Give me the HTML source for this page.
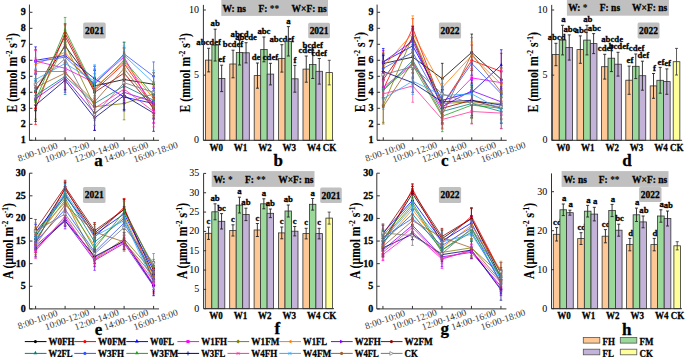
<!DOCTYPE html><html><head><meta charset="utf-8"><style>html,body{margin:0;padding:0;background:#fff;}body{width:685px;height:357px;overflow:hidden;}svg{display:block;}</style></head><body><svg width="685" height="357" viewBox="0 0 685 357" font-family="Liberation Serif, serif">
<style>text[font-weight="bold"]{stroke:#000;stroke-width:0.28px;}</style>
<rect width="685" height="357" fill="#fff"/>
<rect x="83.2" y="22.4" width="22.5" height="16.1" rx="1.5" fill="#c0c0c0"/>
<text x="94.45" y="33.9" font-size="10.3" font-weight="bold" text-anchor="middle" textLength="18.95" lengthAdjust="spacingAndGlyphs">2021</text>
<polyline points="35.6,90.7 65.1,45.9 94.6,85.9 124.1,79.5 153.6,84.3" fill="none" stroke="#000000" stroke-width="0.8"/>
<polyline points="35.6,108.3 65.1,33.1 94.6,90.7 124.1,63.5 153.6,105.1" fill="none" stroke="#ff0000" stroke-width="0.8"/>
<polyline points="35.6,60.3 65.1,55.5 94.6,78.7 124.1,97.1 153.6,103.5" fill="none" stroke="#0000ff" stroke-width="0.8"/>
<polyline points="35.6,61.1 65.1,68.3 94.6,82.7 124.1,57.1 153.6,109.9" fill="none" stroke="#ff00ff" stroke-width="0.8"/>
<polyline points="35.6,101.9 65.1,44.3 94.6,106.7 124.1,103.5 153.6,93.9" fill="none" stroke="#808000" stroke-width="0.8"/>
<polyline points="35.6,64.3 65.1,52.3 94.6,87.5 124.1,61.9 153.6,98.7" fill="none" stroke="#ff8000" stroke-width="0.8"/>
<polyline points="35.6,98.7 65.1,77.9 94.6,113.1 124.1,92.3 153.6,101.9" fill="none" stroke="#8000ff" stroke-width="0.8"/>
<polyline points="35.6,92.3 65.1,36.3 94.6,92.3 124.1,73.1 153.6,108.3" fill="none" stroke="#990000" stroke-width="0.8"/>
<polyline points="35.6,95.5 65.1,76.3 94.6,103.5 124.1,85.9 153.6,100.3" fill="none" stroke="#008080" stroke-width="0.8"/>
<polyline points="35.6,61.9 65.1,57.1 94.6,84.3 124.1,53.9 153.6,76.3" fill="none" stroke="#3355ff" stroke-width="0.8"/>
<polyline points="35.6,100.3 65.1,29.9 94.6,89.1 124.1,60.3 153.6,95.5" fill="none" stroke="#22a022" stroke-width="0.8"/>
<polyline points="35.6,105.1 65.1,80.3 94.6,117.9 124.1,95.5 153.6,113.1" fill="none" stroke="#000080" stroke-width="0.8"/>
<polyline points="35.6,71.5 65.1,71.5 94.6,108.3 124.1,89.1 153.6,111.5" fill="none" stroke="#ff3399" stroke-width="0.8"/>
<polyline points="35.6,79.5 65.1,63.5 94.6,81.1 124.1,55.5 153.6,82.7" fill="none" stroke="#33aaff" stroke-width="0.8"/>
<polyline points="35.6,87.5 65.1,73.1 94.6,101.9 124.1,68.3 153.6,106.7" fill="none" stroke="#a0602d" stroke-width="0.8"/>
<polyline points="35.6,84.3 65.1,58.7 94.6,114.7 124.1,82.7 153.6,92.3" fill="none" stroke="#777777" stroke-width="0.8"/>
<path d="M35.6 81.1V100.3M34.3 81.1H36.9M34.3 100.3H36.9" stroke="#000000" stroke-width="0.7" fill="none"/>
<circle cx="35.6" cy="90.7" r="1.3" fill="#000000"/>
<path d="M65.1 33.42V58.38M63.8 33.42H66.4M63.8 58.38H66.4" stroke="#000000" stroke-width="0.7" fill="none"/>
<circle cx="65.1" cy="45.9" r="1.3" fill="#000000"/>
<path d="M94.6 70.54V101.26M93.3 70.54H95.9M93.3 101.26H95.9" stroke="#000000" stroke-width="0.7" fill="none"/>
<circle cx="94.6" cy="85.9" r="1.3" fill="#000000"/>
<path d="M124.1 61.26V97.74M122.8 61.26H125.4M122.8 97.74H125.4" stroke="#000000" stroke-width="0.7" fill="none"/>
<circle cx="124.1" cy="79.5" r="1.3" fill="#000000"/>
<path d="M153.6 72.78V95.82M152.3 72.78H154.9M152.3 95.82H154.9" stroke="#000000" stroke-width="0.7" fill="none"/>
<circle cx="153.6" cy="84.3" r="1.3" fill="#000000"/>
<path d="M35.6 91.98V124.62M34.3 91.98H36.9M34.3 124.62H36.9" stroke="#ff0000" stroke-width="0.7" fill="none"/>
<circle cx="35.6" cy="108.3" r="1.3" fill="#ff0000"/>
<path d="M65.1 23.5V42.7M63.8 23.5H66.4M63.8 42.7H66.4" stroke="#ff0000" stroke-width="0.7" fill="none"/>
<circle cx="65.1" cy="33.1" r="1.3" fill="#ff0000"/>
<path d="M94.6 78.22V103.18M93.3 78.22H95.9M93.3 103.18H95.9" stroke="#ff0000" stroke-width="0.7" fill="none"/>
<circle cx="94.6" cy="90.7" r="1.3" fill="#ff0000"/>
<path d="M124.1 48.14V78.86M122.8 48.14H125.4M122.8 78.86H125.4" stroke="#ff0000" stroke-width="0.7" fill="none"/>
<circle cx="124.1" cy="63.5" r="1.3" fill="#ff0000"/>
<path d="M153.6 86.86V123.34M152.3 86.86H154.9M152.3 123.34H154.9" stroke="#ff0000" stroke-width="0.7" fill="none"/>
<circle cx="153.6" cy="105.1" r="1.3" fill="#ff0000"/>
<path d="M35.6 46.86V73.74M34.3 46.86H36.9M34.3 73.74H36.9" stroke="#0000ff" stroke-width="0.7" fill="none"/>
<path d="M35.6 58.09L37.16 60.95L34.04 60.95Z" fill="#0000ff"/>
<path d="M65.1 39.18V71.82M63.8 39.18H66.4M63.8 71.82H66.4" stroke="#0000ff" stroke-width="0.7" fill="none"/>
<path d="M65.1 53.29L66.66 56.15L63.54 56.15Z" fill="#0000ff"/>
<path d="M94.6 69.1V88.3M93.3 69.1H95.9M93.3 88.3H95.9" stroke="#0000ff" stroke-width="0.7" fill="none"/>
<path d="M94.6 76.49L96.16 79.35L93.04 79.35Z" fill="#0000ff"/>
<path d="M124.1 84.62V109.58M122.8 84.62H125.4M122.8 109.58H125.4" stroke="#0000ff" stroke-width="0.7" fill="none"/>
<path d="M124.1 94.89L125.66 97.75L122.54 97.75Z" fill="#0000ff"/>
<path d="M153.6 88.14V118.86M152.3 88.14H154.9M152.3 118.86H154.9" stroke="#0000ff" stroke-width="0.7" fill="none"/>
<path d="M153.6 101.29L155.16 104.15L152.04 104.15Z" fill="#0000ff"/>
<path d="M35.6 50.54V71.66M34.3 50.54H36.9M34.3 71.66H36.9" stroke="#ff00ff" stroke-width="0.7" fill="none"/>
<rect x="34.3" y="59.8" width="2.6" height="2.6" fill="#ff00ff"/>
<path d="M65.1 54.86V81.74M63.8 54.86H66.4M63.8 81.74H66.4" stroke="#ff00ff" stroke-width="0.7" fill="none"/>
<rect x="63.8" y="67" width="2.6" height="2.6" fill="#ff00ff"/>
<path d="M94.6 66.38V99.02M93.3 66.38H95.9M93.3 99.02H95.9" stroke="#ff00ff" stroke-width="0.7" fill="none"/>
<rect x="93.3" y="81.4" width="2.6" height="2.6" fill="#ff00ff"/>
<path d="M124.1 47.5V66.7M122.8 47.5H125.4M122.8 66.7H125.4" stroke="#ff00ff" stroke-width="0.7" fill="none"/>
<rect x="122.8" y="55.8" width="2.6" height="2.6" fill="#ff00ff"/>
<path d="M153.6 97.42V122.38M152.3 97.42H154.9M152.3 122.38H154.9" stroke="#ff00ff" stroke-width="0.7" fill="none"/>
<rect x="152.3" y="108.6" width="2.6" height="2.6" fill="#ff00ff"/>
<path d="M35.6 84.62V119.18M34.3 84.62H36.9M34.3 119.18H36.9" stroke="#808000" stroke-width="0.7" fill="none"/>
<path d="M35.6 100.21L37.29 101.9L35.6 103.59L33.91 101.9Z" fill="#808000"/>
<path d="M65.1 33.74V54.86M63.8 33.74H66.4M63.8 54.86H66.4" stroke="#808000" stroke-width="0.7" fill="none"/>
<path d="M65.1 42.61L66.79 44.3L65.1 45.99L63.41 44.3Z" fill="#808000"/>
<path d="M94.6 93.26V120.14M93.3 93.26H95.9M93.3 120.14H95.9" stroke="#808000" stroke-width="0.7" fill="none"/>
<path d="M94.6 105.01L96.29 106.7L94.6 108.39L92.91 106.7Z" fill="#808000"/>
<path d="M124.1 87.18V119.82M122.8 87.18H125.4M122.8 119.82H125.4" stroke="#808000" stroke-width="0.7" fill="none"/>
<path d="M124.1 101.81L125.79 103.5L124.1 105.19L122.41 103.5Z" fill="#808000"/>
<path d="M153.6 84.3V103.5M152.3 84.3H154.9M152.3 103.5H154.9" stroke="#808000" stroke-width="0.7" fill="none"/>
<path d="M153.6 92.21L155.29 93.9L153.6 95.59L151.91 93.9Z" fill="#808000"/>
<path d="M35.6 49.9V78.7M34.3 49.9H36.9M34.3 78.7H36.9" stroke="#ff8000" stroke-width="0.7" fill="none"/>
<path d="M34.04 64.3L36.9 62.74L36.9 65.86Z" fill="#ff8000"/>
<path d="M65.1 35.02V69.58M63.8 35.02H66.4M63.8 69.58H66.4" stroke="#ff8000" stroke-width="0.7" fill="none"/>
<path d="M63.54 52.3L66.4 50.74L66.4 53.86Z" fill="#ff8000"/>
<path d="M94.6 76.94V98.06M93.3 76.94H95.9M93.3 98.06H95.9" stroke="#ff8000" stroke-width="0.7" fill="none"/>
<path d="M93.04 87.5L95.9 85.94L95.9 89.06Z" fill="#ff8000"/>
<path d="M124.1 48.46V75.34M122.8 48.46H125.4M122.8 75.34H125.4" stroke="#ff8000" stroke-width="0.7" fill="none"/>
<path d="M122.54 61.9L125.4 60.34L125.4 63.46Z" fill="#ff8000"/>
<path d="M153.6 82.38V115.02M152.3 82.38H154.9M152.3 115.02H154.9" stroke="#ff8000" stroke-width="0.7" fill="none"/>
<path d="M152.04 98.7L154.9 97.14L154.9 100.26Z" fill="#ff8000"/>
<path d="M35.6 87.18V110.22M34.3 87.18H36.9M34.3 110.22H36.9" stroke="#8000ff" stroke-width="0.7" fill="none"/>
<path d="M37.16 98.7L34.3 97.14L34.3 100.26Z" fill="#8000ff"/>
<path d="M65.1 63.5V92.3M63.8 63.5H66.4M63.8 92.3H66.4" stroke="#8000ff" stroke-width="0.7" fill="none"/>
<path d="M66.66 77.9L63.8 76.34L63.8 79.46Z" fill="#8000ff"/>
<path d="M94.6 95.82V130.38M93.3 95.82H95.9M93.3 130.38H95.9" stroke="#8000ff" stroke-width="0.7" fill="none"/>
<path d="M96.16 113.1L93.3 111.54L93.3 114.66Z" fill="#8000ff"/>
<path d="M124.1 81.74V102.86M122.8 81.74H125.4M122.8 102.86H125.4" stroke="#8000ff" stroke-width="0.7" fill="none"/>
<path d="M125.66 92.3L122.8 90.74L122.8 93.86Z" fill="#8000ff"/>
<path d="M153.6 88.46V115.34M152.3 88.46H154.9M152.3 115.34H154.9" stroke="#8000ff" stroke-width="0.7" fill="none"/>
<path d="M155.16 101.9L152.3 100.34L152.3 103.46Z" fill="#8000ff"/>
<path d="M35.6 74.06V110.54M34.3 74.06H36.9M34.3 110.54H36.9" stroke="#990000" stroke-width="0.7" fill="none"/>
<circle cx="35.6" cy="92.3" r="1.3" fill="#990000"/>
<path d="M65.1 24.78V47.82M63.8 24.78H66.4M63.8 47.82H66.4" stroke="#990000" stroke-width="0.7" fill="none"/>
<circle cx="65.1" cy="36.3" r="1.3" fill="#990000"/>
<path d="M94.6 77.9V106.7M93.3 77.9H95.9M93.3 106.7H95.9" stroke="#990000" stroke-width="0.7" fill="none"/>
<circle cx="94.6" cy="92.3" r="1.3" fill="#990000"/>
<path d="M124.1 55.82V90.38M122.8 55.82H125.4M122.8 90.38H125.4" stroke="#990000" stroke-width="0.7" fill="none"/>
<circle cx="124.1" cy="73.1" r="1.3" fill="#990000"/>
<path d="M153.6 97.74V118.86M152.3 97.74H154.9M152.3 118.86H154.9" stroke="#990000" stroke-width="0.7" fill="none"/>
<circle cx="153.6" cy="108.3" r="1.3" fill="#990000"/>
<path d="M35.6 80.14V110.86M34.3 80.14H36.9M34.3 110.86H36.9" stroke="#008080" stroke-width="0.7" fill="none"/>
<path d="M35.6 93.29L37.16 96.15L34.04 96.15Z" fill="#008080"/>
<path d="M65.1 58.06V94.54M63.8 58.06H66.4M63.8 94.54H66.4" stroke="#008080" stroke-width="0.7" fill="none"/>
<path d="M65.1 74.09L66.66 76.95L63.54 76.95Z" fill="#008080"/>
<path d="M94.6 91.98V115.02M93.3 91.98H95.9M93.3 115.02H95.9" stroke="#008080" stroke-width="0.7" fill="none"/>
<path d="M94.6 101.29L96.16 104.15L93.04 104.15Z" fill="#008080"/>
<path d="M124.1 71.5V100.3M122.8 71.5H125.4M122.8 100.3H125.4" stroke="#008080" stroke-width="0.7" fill="none"/>
<path d="M124.1 83.69L125.66 86.55L122.54 86.55Z" fill="#008080"/>
<path d="M153.6 83.02V117.58M152.3 83.02H154.9M152.3 117.58H154.9" stroke="#008080" stroke-width="0.7" fill="none"/>
<path d="M153.6 98.09L155.16 100.95L152.04 100.95Z" fill="#008080"/>
<path d="M35.6 49.42V74.38M34.3 49.42H36.9M34.3 74.38H36.9" stroke="#3355ff" stroke-width="0.7" fill="none"/>
<circle cx="35.6" cy="61.9" r="1.3" fill="#3355ff"/>
<path d="M65.1 41.74V72.46M63.8 41.74H66.4M63.8 72.46H66.4" stroke="#3355ff" stroke-width="0.7" fill="none"/>
<circle cx="65.1" cy="57.1" r="1.3" fill="#3355ff"/>
<path d="M94.6 66.06V102.54M93.3 66.06H95.9M93.3 102.54H95.9" stroke="#3355ff" stroke-width="0.7" fill="none"/>
<circle cx="94.6" cy="84.3" r="1.3" fill="#3355ff"/>
<path d="M124.1 42.38V65.42M122.8 42.38H125.4M122.8 65.42H125.4" stroke="#3355ff" stroke-width="0.7" fill="none"/>
<circle cx="124.1" cy="53.9" r="1.3" fill="#3355ff"/>
<path d="M153.6 61.9V90.7M152.3 61.9H154.9M152.3 90.7H154.9" stroke="#3355ff" stroke-width="0.7" fill="none"/>
<circle cx="153.6" cy="76.3" r="1.3" fill="#3355ff"/>
<path d="M35.6 90.7V109.9M34.3 90.7H36.9M34.3 109.9H36.9" stroke="#22a022" stroke-width="0.7" fill="none"/>
<path d="M35.6 98.09L37.16 100.95L34.04 100.95Z" fill="#22a022"/>
<path d="M65.1 17.42V42.38M63.8 17.42H66.4M63.8 42.38H66.4" stroke="#22a022" stroke-width="0.7" fill="none"/>
<path d="M65.1 27.69L66.66 30.55L63.54 30.55Z" fill="#22a022"/>
<path d="M94.6 73.74V104.46M93.3 73.74H95.9M93.3 104.46H95.9" stroke="#22a022" stroke-width="0.7" fill="none"/>
<path d="M94.6 86.89L96.16 89.75L93.04 89.75Z" fill="#22a022"/>
<path d="M124.1 42.06V78.54M122.8 42.06H125.4M122.8 78.54H125.4" stroke="#22a022" stroke-width="0.7" fill="none"/>
<path d="M124.1 58.09L125.66 60.95L122.54 60.95Z" fill="#22a022"/>
<path d="M153.6 83.98V107.02M152.3 83.98H154.9M152.3 107.02H154.9" stroke="#22a022" stroke-width="0.7" fill="none"/>
<path d="M153.6 93.29L155.16 96.15L152.04 96.15Z" fill="#22a022"/>
<path d="M35.6 88.78V121.42M34.3 88.78H36.9M34.3 121.42H36.9" stroke="#000080" stroke-width="0.7" fill="none"/>
<path d="M35.6 103.41V106.79M33.91 105.1H37.29" stroke="#000080" stroke-width="0.8"/>
<path d="M65.1 70.7V89.9M63.8 70.7H66.4M63.8 89.9H66.4" stroke="#000080" stroke-width="0.7" fill="none"/>
<path d="M65.1 78.61V81.99M63.41 80.3H66.79" stroke="#000080" stroke-width="0.8"/>
<path d="M94.6 105.42V130.38M93.3 105.42H95.9M93.3 130.38H95.9" stroke="#000080" stroke-width="0.7" fill="none"/>
<path d="M94.6 116.21V119.59M92.91 117.9H96.29" stroke="#000080" stroke-width="0.8"/>
<path d="M124.1 80.14V110.86M122.8 80.14H125.4M122.8 110.86H125.4" stroke="#000080" stroke-width="0.7" fill="none"/>
<path d="M124.1 93.81V97.19M122.41 95.5H125.79" stroke="#000080" stroke-width="0.8"/>
<path d="M153.6 94.86V131.34M152.3 94.86H154.9M152.3 131.34H154.9" stroke="#000080" stroke-width="0.7" fill="none"/>
<path d="M153.6 111.41V114.79M151.91 113.1H155.29" stroke="#000080" stroke-width="0.8"/>
<path d="M35.6 58.06V84.94M34.3 58.06H36.9M34.3 84.94H36.9" stroke="#ff3399" stroke-width="0.7" fill="none"/>
<path d="M34.3 70.2L36.9 72.8M34.3 72.8L36.9 70.2" stroke="#ff3399" stroke-width="0.8"/>
<path d="M65.1 55.18V87.82M63.8 55.18H66.4M63.8 87.82H66.4" stroke="#ff3399" stroke-width="0.7" fill="none"/>
<path d="M63.8 70.2L66.4 72.8M63.8 72.8L66.4 70.2" stroke="#ff3399" stroke-width="0.8"/>
<path d="M94.6 98.7V117.9M93.3 98.7H95.9M93.3 117.9H95.9" stroke="#ff3399" stroke-width="0.7" fill="none"/>
<path d="M93.3 107L95.9 109.6M93.3 109.6L95.9 107" stroke="#ff3399" stroke-width="0.8"/>
<path d="M124.1 76.62V101.58M122.8 76.62H125.4M122.8 101.58H125.4" stroke="#ff3399" stroke-width="0.7" fill="none"/>
<path d="M122.8 87.8L125.4 90.4M122.8 90.4L125.4 87.8" stroke="#ff3399" stroke-width="0.8"/>
<path d="M153.6 96.14V126.86M152.3 96.14H154.9M152.3 126.86H154.9" stroke="#ff3399" stroke-width="0.7" fill="none"/>
<path d="M152.3 110.2L154.9 112.8M152.3 112.8L154.9 110.2" stroke="#ff3399" stroke-width="0.8"/>
<path d="M35.6 68.94V90.06M34.3 68.94H36.9M34.3 90.06H36.9" stroke="#33aaff" stroke-width="0.7" fill="none"/>
<path d="M34.3 78.2L36.9 80.8M34.3 80.8L36.9 78.2" stroke="#33aaff" stroke-width="0.8"/>
<path d="M65.1 50.06V76.94M63.8 50.06H66.4M63.8 76.94H66.4" stroke="#33aaff" stroke-width="0.7" fill="none"/>
<path d="M63.8 62.2L66.4 64.8M63.8 64.8L66.4 62.2" stroke="#33aaff" stroke-width="0.8"/>
<path d="M94.6 64.78V97.42M93.3 64.78H95.9M93.3 97.42H95.9" stroke="#33aaff" stroke-width="0.7" fill="none"/>
<path d="M93.3 79.8L95.9 82.4M93.3 82.4L95.9 79.8" stroke="#33aaff" stroke-width="0.8"/>
<path d="M124.1 45.9V65.1M122.8 45.9H125.4M122.8 65.1H125.4" stroke="#33aaff" stroke-width="0.7" fill="none"/>
<path d="M122.8 54.2L125.4 56.8M122.8 56.8L125.4 54.2" stroke="#33aaff" stroke-width="0.8"/>
<path d="M153.6 70.22V95.18M152.3 70.22H154.9M152.3 95.18H154.9" stroke="#33aaff" stroke-width="0.7" fill="none"/>
<path d="M152.3 81.4L154.9 84M152.3 84L154.9 81.4" stroke="#33aaff" stroke-width="0.8"/>
<path d="M35.6 70.22V104.78M34.3 70.22H36.9M34.3 104.78H36.9" stroke="#a0602d" stroke-width="0.7" fill="none"/>
<circle cx="35.6" cy="87.5" r="1.3" fill="#a0602d"/>
<path d="M65.1 62.54V83.66M63.8 62.54H66.4M63.8 83.66H66.4" stroke="#a0602d" stroke-width="0.7" fill="none"/>
<circle cx="65.1" cy="73.1" r="1.3" fill="#a0602d"/>
<path d="M94.6 88.46V115.34M93.3 88.46H95.9M93.3 115.34H95.9" stroke="#a0602d" stroke-width="0.7" fill="none"/>
<circle cx="94.6" cy="101.9" r="1.3" fill="#a0602d"/>
<path d="M124.1 51.98V84.62M122.8 51.98H125.4M122.8 84.62H125.4" stroke="#a0602d" stroke-width="0.7" fill="none"/>
<circle cx="124.1" cy="68.3" r="1.3" fill="#a0602d"/>
<path d="M153.6 97.1V116.3M152.3 97.1H154.9M152.3 116.3H154.9" stroke="#a0602d" stroke-width="0.7" fill="none"/>
<circle cx="153.6" cy="106.7" r="1.3" fill="#a0602d"/>
<path d="M35.6 69.9V98.7M34.3 69.9H36.9M34.3 98.7H36.9" stroke="#777777" stroke-width="0.7" fill="none"/>
<path d="M37.16 84.3L34.3 82.74L34.3 85.86Z" fill="#fff" stroke="#777777" stroke-width="0.7"/>
<path d="M65.1 41.42V75.98M63.8 41.42H66.4M63.8 75.98H66.4" stroke="#777777" stroke-width="0.7" fill="none"/>
<path d="M66.66 58.7L63.8 57.14L63.8 60.26Z" fill="#fff" stroke="#777777" stroke-width="0.7"/>
<path d="M94.6 104.14V125.26M93.3 104.14H95.9M93.3 125.26H95.9" stroke="#777777" stroke-width="0.7" fill="none"/>
<path d="M96.16 114.7L93.3 113.14L93.3 116.26Z" fill="#fff" stroke="#777777" stroke-width="0.7"/>
<path d="M124.1 69.26V96.14M122.8 69.26H125.4M122.8 96.14H125.4" stroke="#777777" stroke-width="0.7" fill="none"/>
<path d="M125.66 82.7L122.8 81.14L122.8 84.26Z" fill="#fff" stroke="#777777" stroke-width="0.7"/>
<path d="M153.6 75.98V108.62M152.3 75.98H154.9M152.3 108.62H154.9" stroke="#777777" stroke-width="0.7" fill="none"/>
<path d="M155.16 92.3L152.3 90.74L152.3 93.86Z" fill="#fff" stroke="#777777" stroke-width="0.7"/>
<path d="M29.45 12.3V140.3H159.05" stroke="#333" stroke-width="1" fill="none"/>
<path d="M29.45 140.3H32.45" stroke="#333" stroke-width="1"/>
<text x="25.85" y="143.2" font-size="10" font-weight="bold" text-anchor="end">1</text>
<path d="M29.45 124.3H32.45" stroke="#333" stroke-width="1"/>
<text x="25.85" y="127.2" font-size="10" font-weight="bold" text-anchor="end">2</text>
<path d="M29.45 108.3H32.45" stroke="#333" stroke-width="1"/>
<text x="25.85" y="111.2" font-size="10" font-weight="bold" text-anchor="end">3</text>
<path d="M29.45 92.3H32.45" stroke="#333" stroke-width="1"/>
<text x="25.85" y="95.2" font-size="10" font-weight="bold" text-anchor="end">4</text>
<path d="M29.45 76.3H32.45" stroke="#333" stroke-width="1"/>
<text x="25.85" y="79.2" font-size="10" font-weight="bold" text-anchor="end">5</text>
<path d="M29.45 60.3H32.45" stroke="#333" stroke-width="1"/>
<text x="25.85" y="63.2" font-size="10" font-weight="bold" text-anchor="end">6</text>
<path d="M29.45 44.3H32.45" stroke="#333" stroke-width="1"/>
<text x="25.85" y="47.2" font-size="10" font-weight="bold" text-anchor="end">7</text>
<path d="M29.45 28.3H32.45" stroke="#333" stroke-width="1"/>
<text x="25.85" y="31.2" font-size="10" font-weight="bold" text-anchor="end">8</text>
<path d="M29.45 12.3H32.45" stroke="#333" stroke-width="1"/>
<text x="25.85" y="15.2" font-size="10" font-weight="bold" text-anchor="end">9</text>
<path d="M35.6 140.3V137.3" stroke="#333" stroke-width="1"/>
<path d="M65.1 140.3V137.3" stroke="#333" stroke-width="1"/>
<path d="M94.6 140.3V137.3" stroke="#333" stroke-width="1"/>
<path d="M124.1 140.3V137.3" stroke="#333" stroke-width="1"/>
<path d="M153.6 140.3V137.3" stroke="#333" stroke-width="1"/>
<text transform="translate(38.6 154.9) rotate(-19)" font-size="9.5" fill="#383838" text-anchor="middle">8:00-10:00</text>
<text transform="translate(68.1 154.9) rotate(-19)" font-size="9.5" fill="#383838" text-anchor="middle">10:00-12:00</text>
<text transform="translate(97.6 154.9) rotate(-19)" font-size="9.5" fill="#383838" text-anchor="middle">12:00-14:00</text>
<text transform="translate(127.1 154.9) rotate(-19)" font-size="9.5" fill="#383838" text-anchor="middle">14:00-16:00</text>
<text transform="translate(156.6 154.9) rotate(-19)" font-size="9.5" fill="#383838" text-anchor="middle">16:00-18:00</text>
<text x="98.6" y="166" font-size="17" font-weight="bold" text-anchor="middle">a</text>
<path d="M29.45 4.6V12.3" stroke="#333" stroke-width="1"/>
<rect x="438.9" y="22.4" width="22.2" height="16.1" rx="1.5" fill="#c0c0c0"/>
<text x="450" y="33.9" font-size="10.3" font-weight="bold" text-anchor="middle" textLength="18.95" lengthAdjust="spacingAndGlyphs">2022</text>
<polyline points="383.25,63.5 412.75,57.1 442.25,78.7 471.75,52.3 501.25,79.5" fill="none" stroke="#000000" stroke-width="0.8"/>
<polyline points="383.25,89.1 412.75,28.3 442.25,105.1 471.75,60.3 501.25,71.5" fill="none" stroke="#ff0000" stroke-width="0.8"/>
<polyline points="383.25,61.9 412.75,45.9 442.25,100.3 471.75,92.3 501.25,65.1" fill="none" stroke="#0000ff" stroke-width="0.8"/>
<polyline points="383.25,87.5 412.75,63.5 442.25,108.3 471.75,77.9 501.25,82.7" fill="none" stroke="#ff00ff" stroke-width="0.8"/>
<polyline points="383.25,105.1 412.75,36.3 442.25,103.5 471.75,101.9 501.25,103.5" fill="none" stroke="#808000" stroke-width="0.8"/>
<polyline points="383.25,66.7 412.75,33.1 442.25,87.5 471.75,55.5 501.25,84.3" fill="none" stroke="#ff8000" stroke-width="0.8"/>
<polyline points="383.25,61.9 412.75,41.1 442.25,106.7 471.75,90.7 501.25,101.9" fill="none" stroke="#8000ff" stroke-width="0.8"/>
<polyline points="383.25,79.5 412.75,37.9 442.25,108.3 471.75,100.3 501.25,108.3" fill="none" stroke="#990000" stroke-width="0.8"/>
<polyline points="383.25,90.7 412.75,60.3 442.25,111.5 471.75,103.5 501.25,111.5" fill="none" stroke="#008080" stroke-width="0.8"/>
<polyline points="383.25,68.3 412.75,52.3 442.25,105.1 471.75,63.5 501.25,93.9" fill="none" stroke="#3355ff" stroke-width="0.8"/>
<polyline points="383.25,89.1 412.75,65.1 442.25,116.3 471.75,105.1 501.25,108.3" fill="none" stroke="#22a022" stroke-width="0.8"/>
<polyline points="383.25,71.5 412.75,82.7 442.25,101.9 471.75,100.3 501.25,105.1" fill="none" stroke="#000080" stroke-width="0.8"/>
<polyline points="383.25,93.9 412.75,85.9 442.25,119.5 471.75,111.5 501.25,113.1" fill="none" stroke="#ff3399" stroke-width="0.8"/>
<polyline points="383.25,98.7 412.75,81.1 442.25,95.5 471.75,93.9 501.25,109.9" fill="none" stroke="#33aaff" stroke-width="0.8"/>
<polyline points="383.25,106.7 412.75,61.9 442.25,114.7 471.75,53.9 501.25,92.3" fill="none" stroke="#a0602d" stroke-width="0.8"/>
<polyline points="383.25,74.7 412.75,66.7 442.25,93.9 471.75,103.5 501.25,106.7" fill="none" stroke="#777777" stroke-width="0.8"/>
<path d="M383.25 53.9V73.1M381.95 53.9H384.55M381.95 73.1H384.55" stroke="#000000" stroke-width="0.7" fill="none"/>
<circle cx="383.25" cy="63.5" r="1.3" fill="#000000"/>
<path d="M412.75 44.62V69.58M411.45 44.62H414.05M411.45 69.58H414.05" stroke="#000000" stroke-width="0.7" fill="none"/>
<circle cx="412.75" cy="57.1" r="1.3" fill="#000000"/>
<path d="M442.25 63.34V94.06M440.95 63.34H443.55M440.95 94.06H443.55" stroke="#000000" stroke-width="0.7" fill="none"/>
<circle cx="442.25" cy="78.7" r="1.3" fill="#000000"/>
<path d="M471.75 34.06V70.54M470.45 34.06H473.05M470.45 70.54H473.05" stroke="#000000" stroke-width="0.7" fill="none"/>
<circle cx="471.75" cy="52.3" r="1.3" fill="#000000"/>
<path d="M501.25 67.98V91.02M499.95 67.98H502.55M499.95 91.02H502.55" stroke="#000000" stroke-width="0.7" fill="none"/>
<circle cx="501.25" cy="79.5" r="1.3" fill="#000000"/>
<path d="M383.25 72.78V105.42M381.95 72.78H384.55M381.95 105.42H384.55" stroke="#ff0000" stroke-width="0.7" fill="none"/>
<circle cx="383.25" cy="89.1" r="1.3" fill="#ff0000"/>
<path d="M412.75 18.7V37.9M411.45 18.7H414.05M411.45 37.9H414.05" stroke="#ff0000" stroke-width="0.7" fill="none"/>
<circle cx="412.75" cy="28.3" r="1.3" fill="#ff0000"/>
<path d="M442.25 92.62V117.58M440.95 92.62H443.55M440.95 117.58H443.55" stroke="#ff0000" stroke-width="0.7" fill="none"/>
<circle cx="442.25" cy="105.1" r="1.3" fill="#ff0000"/>
<path d="M471.75 44.94V75.66M470.45 44.94H473.05M470.45 75.66H473.05" stroke="#ff0000" stroke-width="0.7" fill="none"/>
<circle cx="471.75" cy="60.3" r="1.3" fill="#ff0000"/>
<path d="M501.25 53.26V89.74M499.95 53.26H502.55M499.95 89.74H502.55" stroke="#ff0000" stroke-width="0.7" fill="none"/>
<circle cx="501.25" cy="71.5" r="1.3" fill="#ff0000"/>
<path d="M383.25 48.46V75.34M381.95 48.46H384.55M381.95 75.34H384.55" stroke="#0000ff" stroke-width="0.7" fill="none"/>
<path d="M383.25 59.69L384.81 62.55L381.69 62.55Z" fill="#0000ff"/>
<path d="M412.75 29.58V62.22M411.45 29.58H414.05M411.45 62.22H414.05" stroke="#0000ff" stroke-width="0.7" fill="none"/>
<path d="M412.75 43.69L414.31 46.55L411.19 46.55Z" fill="#0000ff"/>
<path d="M442.25 90.7V109.9M440.95 90.7H443.55M440.95 109.9H443.55" stroke="#0000ff" stroke-width="0.7" fill="none"/>
<path d="M442.25 98.09L443.81 100.95L440.69 100.95Z" fill="#0000ff"/>
<path d="M471.75 79.82V104.78M470.45 79.82H473.05M470.45 104.78H473.05" stroke="#0000ff" stroke-width="0.7" fill="none"/>
<path d="M471.75 90.09L473.31 92.95L470.19 92.95Z" fill="#0000ff"/>
<path d="M501.25 49.74V80.46M499.95 49.74H502.55M499.95 80.46H502.55" stroke="#0000ff" stroke-width="0.7" fill="none"/>
<path d="M501.25 62.89L502.81 65.75L499.69 65.75Z" fill="#0000ff"/>
<path d="M383.25 76.94V98.06M381.95 76.94H384.55M381.95 98.06H384.55" stroke="#ff00ff" stroke-width="0.7" fill="none"/>
<rect x="381.95" y="86.2" width="2.6" height="2.6" fill="#ff00ff"/>
<path d="M412.75 50.06V76.94M411.45 50.06H414.05M411.45 76.94H414.05" stroke="#ff00ff" stroke-width="0.7" fill="none"/>
<rect x="411.45" y="62.2" width="2.6" height="2.6" fill="#ff00ff"/>
<path d="M442.25 91.98V124.62M440.95 91.98H443.55M440.95 124.62H443.55" stroke="#ff00ff" stroke-width="0.7" fill="none"/>
<rect x="440.95" y="107" width="2.6" height="2.6" fill="#ff00ff"/>
<path d="M471.75 68.3V87.5M470.45 68.3H473.05M470.45 87.5H473.05" stroke="#ff00ff" stroke-width="0.7" fill="none"/>
<rect x="470.45" y="76.6" width="2.6" height="2.6" fill="#ff00ff"/>
<path d="M501.25 70.22V95.18M499.95 70.22H502.55M499.95 95.18H502.55" stroke="#ff00ff" stroke-width="0.7" fill="none"/>
<rect x="499.95" y="81.4" width="2.6" height="2.6" fill="#ff00ff"/>
<path d="M383.25 87.82V122.38M381.95 87.82H384.55M381.95 122.38H384.55" stroke="#808000" stroke-width="0.7" fill="none"/>
<path d="M383.25 103.41L384.94 105.1L383.25 106.79L381.56 105.1Z" fill="#808000"/>
<path d="M412.75 25.74V46.86M411.45 25.74H414.05M411.45 46.86H414.05" stroke="#808000" stroke-width="0.7" fill="none"/>
<path d="M412.75 34.61L414.44 36.3L412.75 37.99L411.06 36.3Z" fill="#808000"/>
<path d="M442.25 90.06V116.94M440.95 90.06H443.55M440.95 116.94H443.55" stroke="#808000" stroke-width="0.7" fill="none"/>
<path d="M442.25 101.81L443.94 103.5L442.25 105.19L440.56 103.5Z" fill="#808000"/>
<path d="M471.75 85.58V118.22M470.45 85.58H473.05M470.45 118.22H473.05" stroke="#808000" stroke-width="0.7" fill="none"/>
<path d="M471.75 100.21L473.44 101.9L471.75 103.59L470.06 101.9Z" fill="#808000"/>
<path d="M501.25 93.9V113.1M499.95 93.9H502.55M499.95 113.1H502.55" stroke="#808000" stroke-width="0.7" fill="none"/>
<path d="M501.25 101.81L502.94 103.5L501.25 105.19L499.56 103.5Z" fill="#808000"/>
<path d="M383.25 52.3V81.1M381.95 52.3H384.55M381.95 81.1H384.55" stroke="#ff8000" stroke-width="0.7" fill="none"/>
<path d="M381.69 66.7L384.55 65.14L384.55 68.26Z" fill="#ff8000"/>
<path d="M412.75 15.82V50.38M411.45 15.82H414.05M411.45 50.38H414.05" stroke="#ff8000" stroke-width="0.7" fill="none"/>
<path d="M411.19 33.1L414.05 31.54L414.05 34.66Z" fill="#ff8000"/>
<path d="M442.25 76.94V98.06M440.95 76.94H443.55M440.95 98.06H443.55" stroke="#ff8000" stroke-width="0.7" fill="none"/>
<path d="M440.69 87.5L443.55 85.94L443.55 89.06Z" fill="#ff8000"/>
<path d="M471.75 42.06V68.94M470.45 42.06H473.05M470.45 68.94H473.05" stroke="#ff8000" stroke-width="0.7" fill="none"/>
<path d="M470.19 55.5L473.05 53.94L473.05 57.06Z" fill="#ff8000"/>
<path d="M501.25 67.98V100.62M499.95 67.98H502.55M499.95 100.62H502.55" stroke="#ff8000" stroke-width="0.7" fill="none"/>
<path d="M499.69 84.3L502.55 82.74L502.55 85.86Z" fill="#ff8000"/>
<path d="M383.25 50.38V73.42M381.95 50.38H384.55M381.95 73.42H384.55" stroke="#8000ff" stroke-width="0.7" fill="none"/>
<path d="M384.81 61.9L381.95 60.34L381.95 63.46Z" fill="#8000ff"/>
<path d="M412.75 26.7V55.5M411.45 26.7H414.05M411.45 55.5H414.05" stroke="#8000ff" stroke-width="0.7" fill="none"/>
<path d="M414.31 41.1L411.45 39.54L411.45 42.66Z" fill="#8000ff"/>
<path d="M442.25 89.42V123.98M440.95 89.42H443.55M440.95 123.98H443.55" stroke="#8000ff" stroke-width="0.7" fill="none"/>
<path d="M443.81 106.7L440.95 105.14L440.95 108.26Z" fill="#8000ff"/>
<path d="M471.75 80.14V101.26M470.45 80.14H473.05M470.45 101.26H473.05" stroke="#8000ff" stroke-width="0.7" fill="none"/>
<path d="M473.31 90.7L470.45 89.14L470.45 92.26Z" fill="#8000ff"/>
<path d="M501.25 88.46V115.34M499.95 88.46H502.55M499.95 115.34H502.55" stroke="#8000ff" stroke-width="0.7" fill="none"/>
<path d="M502.81 101.9L499.95 100.34L499.95 103.46Z" fill="#8000ff"/>
<path d="M383.25 61.26V97.74M381.95 61.26H384.55M381.95 97.74H384.55" stroke="#990000" stroke-width="0.7" fill="none"/>
<circle cx="383.25" cy="79.5" r="1.3" fill="#990000"/>
<path d="M412.75 26.38V49.42M411.45 26.38H414.05M411.45 49.42H414.05" stroke="#990000" stroke-width="0.7" fill="none"/>
<circle cx="412.75" cy="37.9" r="1.3" fill="#990000"/>
<path d="M442.25 93.9V122.7M440.95 93.9H443.55M440.95 122.7H443.55" stroke="#990000" stroke-width="0.7" fill="none"/>
<circle cx="442.25" cy="108.3" r="1.3" fill="#990000"/>
<path d="M471.75 83.02V117.58M470.45 83.02H473.05M470.45 117.58H473.05" stroke="#990000" stroke-width="0.7" fill="none"/>
<circle cx="471.75" cy="100.3" r="1.3" fill="#990000"/>
<path d="M501.25 97.74V118.86M499.95 97.74H502.55M499.95 118.86H502.55" stroke="#990000" stroke-width="0.7" fill="none"/>
<circle cx="501.25" cy="108.3" r="1.3" fill="#990000"/>
<path d="M383.25 75.34V106.06M381.95 75.34H384.55M381.95 106.06H384.55" stroke="#008080" stroke-width="0.7" fill="none"/>
<path d="M383.25 88.49L384.81 91.35L381.69 91.35Z" fill="#008080"/>
<path d="M412.75 42.06V78.54M411.45 42.06H414.05M411.45 78.54H414.05" stroke="#008080" stroke-width="0.7" fill="none"/>
<path d="M412.75 58.09L414.31 60.95L411.19 60.95Z" fill="#008080"/>
<path d="M442.25 99.98V123.02M440.95 99.98H443.55M440.95 123.02H443.55" stroke="#008080" stroke-width="0.7" fill="none"/>
<path d="M442.25 109.29L443.81 112.15L440.69 112.15Z" fill="#008080"/>
<path d="M471.75 89.1V117.9M470.45 89.1H473.05M470.45 117.9H473.05" stroke="#008080" stroke-width="0.7" fill="none"/>
<path d="M471.75 101.29L473.31 104.15L470.19 104.15Z" fill="#008080"/>
<path d="M501.25 94.22V128.78M499.95 94.22H502.55M499.95 128.78H502.55" stroke="#008080" stroke-width="0.7" fill="none"/>
<path d="M501.25 109.29L502.81 112.15L499.69 112.15Z" fill="#008080"/>
<path d="M383.25 55.82V80.78M381.95 55.82H384.55M381.95 80.78H384.55" stroke="#3355ff" stroke-width="0.7" fill="none"/>
<circle cx="383.25" cy="68.3" r="1.3" fill="#3355ff"/>
<path d="M412.75 36.94V67.66M411.45 36.94H414.05M411.45 67.66H414.05" stroke="#3355ff" stroke-width="0.7" fill="none"/>
<circle cx="412.75" cy="52.3" r="1.3" fill="#3355ff"/>
<path d="M442.25 86.86V123.34M440.95 86.86H443.55M440.95 123.34H443.55" stroke="#3355ff" stroke-width="0.7" fill="none"/>
<circle cx="442.25" cy="105.1" r="1.3" fill="#3355ff"/>
<path d="M471.75 51.98V75.02M470.45 51.98H473.05M470.45 75.02H473.05" stroke="#3355ff" stroke-width="0.7" fill="none"/>
<circle cx="471.75" cy="63.5" r="1.3" fill="#3355ff"/>
<path d="M501.25 79.5V108.3M499.95 79.5H502.55M499.95 108.3H502.55" stroke="#3355ff" stroke-width="0.7" fill="none"/>
<circle cx="501.25" cy="93.9" r="1.3" fill="#3355ff"/>
<path d="M383.25 79.5V98.7M381.95 79.5H384.55M381.95 98.7H384.55" stroke="#22a022" stroke-width="0.7" fill="none"/>
<path d="M383.25 86.89L384.81 89.75L381.69 89.75Z" fill="#22a022"/>
<path d="M412.75 52.62V77.58M411.45 52.62H414.05M411.45 77.58H414.05" stroke="#22a022" stroke-width="0.7" fill="none"/>
<path d="M412.75 62.89L414.31 65.75L411.19 65.75Z" fill="#22a022"/>
<path d="M442.25 100.94V131.66M440.95 100.94H443.55M440.95 131.66H443.55" stroke="#22a022" stroke-width="0.7" fill="none"/>
<path d="M442.25 114.09L443.81 116.95L440.69 116.95Z" fill="#22a022"/>
<path d="M471.75 86.86V123.34M470.45 86.86H473.05M470.45 123.34H473.05" stroke="#22a022" stroke-width="0.7" fill="none"/>
<path d="M471.75 102.89L473.31 105.75L470.19 105.75Z" fill="#22a022"/>
<path d="M501.25 96.78V119.82M499.95 96.78H502.55M499.95 119.82H502.55" stroke="#22a022" stroke-width="0.7" fill="none"/>
<path d="M501.25 106.09L502.81 108.95L499.69 108.95Z" fill="#22a022"/>
<path d="M383.25 55.18V87.82M381.95 55.18H384.55M381.95 87.82H384.55" stroke="#000080" stroke-width="0.7" fill="none"/>
<path d="M383.25 69.81V73.19M381.56 71.5H384.94" stroke="#000080" stroke-width="0.8"/>
<path d="M412.75 73.1V92.3M411.45 73.1H414.05M411.45 92.3H414.05" stroke="#000080" stroke-width="0.7" fill="none"/>
<path d="M412.75 81.01V84.39M411.06 82.7H414.44" stroke="#000080" stroke-width="0.8"/>
<path d="M442.25 89.42V114.38M440.95 89.42H443.55M440.95 114.38H443.55" stroke="#000080" stroke-width="0.7" fill="none"/>
<path d="M442.25 100.21V103.59M440.56 101.9H443.94" stroke="#000080" stroke-width="0.8"/>
<path d="M471.75 84.94V115.66M470.45 84.94H473.05M470.45 115.66H473.05" stroke="#000080" stroke-width="0.7" fill="none"/>
<path d="M471.75 98.61V101.99M470.06 100.3H473.44" stroke="#000080" stroke-width="0.8"/>
<path d="M501.25 86.86V123.34M499.95 86.86H502.55M499.95 123.34H502.55" stroke="#000080" stroke-width="0.7" fill="none"/>
<path d="M501.25 103.41V106.79M499.56 105.1H502.94" stroke="#000080" stroke-width="0.8"/>
<path d="M383.25 80.46V107.34M381.95 80.46H384.55M381.95 107.34H384.55" stroke="#ff3399" stroke-width="0.7" fill="none"/>
<path d="M381.95 92.6L384.55 95.2M381.95 95.2L384.55 92.6" stroke="#ff3399" stroke-width="0.8"/>
<path d="M412.75 69.58V102.22M411.45 69.58H414.05M411.45 102.22H414.05" stroke="#ff3399" stroke-width="0.7" fill="none"/>
<path d="M411.45 84.6L414.05 87.2M411.45 87.2L414.05 84.6" stroke="#ff3399" stroke-width="0.8"/>
<path d="M442.25 109.9V129.1M440.95 109.9H443.55M440.95 129.1H443.55" stroke="#ff3399" stroke-width="0.7" fill="none"/>
<path d="M440.95 118.2L443.55 120.8M440.95 120.8L443.55 118.2" stroke="#ff3399" stroke-width="0.8"/>
<path d="M471.75 99.02V123.98M470.45 99.02H473.05M470.45 123.98H473.05" stroke="#ff3399" stroke-width="0.7" fill="none"/>
<path d="M470.45 110.2L473.05 112.8M470.45 112.8L473.05 110.2" stroke="#ff3399" stroke-width="0.8"/>
<path d="M501.25 97.74V128.46M499.95 97.74H502.55M499.95 128.46H502.55" stroke="#ff3399" stroke-width="0.7" fill="none"/>
<path d="M499.95 111.8L502.55 114.4M499.95 114.4L502.55 111.8" stroke="#ff3399" stroke-width="0.8"/>
<path d="M383.25 88.14V109.26M381.95 88.14H384.55M381.95 109.26H384.55" stroke="#33aaff" stroke-width="0.7" fill="none"/>
<path d="M381.95 97.4L384.55 100M381.95 100L384.55 97.4" stroke="#33aaff" stroke-width="0.8"/>
<path d="M412.75 67.66V94.54M411.45 67.66H414.05M411.45 94.54H414.05" stroke="#33aaff" stroke-width="0.7" fill="none"/>
<path d="M411.45 79.8L414.05 82.4M411.45 82.4L414.05 79.8" stroke="#33aaff" stroke-width="0.8"/>
<path d="M442.25 79.18V111.82M440.95 79.18H443.55M440.95 111.82H443.55" stroke="#33aaff" stroke-width="0.7" fill="none"/>
<path d="M440.95 94.2L443.55 96.8M440.95 96.8L443.55 94.2" stroke="#33aaff" stroke-width="0.8"/>
<path d="M471.75 84.3V103.5M470.45 84.3H473.05M470.45 103.5H473.05" stroke="#33aaff" stroke-width="0.7" fill="none"/>
<path d="M470.45 92.6L473.05 95.2M470.45 95.2L473.05 92.6" stroke="#33aaff" stroke-width="0.8"/>
<path d="M501.25 97.42V122.38M499.95 97.42H502.55M499.95 122.38H502.55" stroke="#33aaff" stroke-width="0.7" fill="none"/>
<path d="M499.95 108.6L502.55 111.2M499.95 111.2L502.55 108.6" stroke="#33aaff" stroke-width="0.8"/>
<path d="M383.25 89.42V123.98M381.95 89.42H384.55M381.95 123.98H384.55" stroke="#a0602d" stroke-width="0.7" fill="none"/>
<circle cx="383.25" cy="106.7" r="1.3" fill="#a0602d"/>
<path d="M412.75 51.34V72.46M411.45 51.34H414.05M411.45 72.46H414.05" stroke="#a0602d" stroke-width="0.7" fill="none"/>
<circle cx="412.75" cy="61.9" r="1.3" fill="#a0602d"/>
<path d="M442.25 101.26V128.14M440.95 101.26H443.55M440.95 128.14H443.55" stroke="#a0602d" stroke-width="0.7" fill="none"/>
<circle cx="442.25" cy="114.7" r="1.3" fill="#a0602d"/>
<path d="M471.75 37.58V70.22M470.45 37.58H473.05M470.45 70.22H473.05" stroke="#a0602d" stroke-width="0.7" fill="none"/>
<circle cx="471.75" cy="53.9" r="1.3" fill="#a0602d"/>
<path d="M501.25 82.7V101.9M499.95 82.7H502.55M499.95 101.9H502.55" stroke="#a0602d" stroke-width="0.7" fill="none"/>
<circle cx="501.25" cy="92.3" r="1.3" fill="#a0602d"/>
<path d="M383.25 60.3V89.1M381.95 60.3H384.55M381.95 89.1H384.55" stroke="#777777" stroke-width="0.7" fill="none"/>
<path d="M384.81 74.7L381.95 73.14L381.95 76.26Z" fill="#fff" stroke="#777777" stroke-width="0.7"/>
<path d="M412.75 49.42V83.98M411.45 49.42H414.05M411.45 83.98H414.05" stroke="#777777" stroke-width="0.7" fill="none"/>
<path d="M414.31 66.7L411.45 65.14L411.45 68.26Z" fill="#fff" stroke="#777777" stroke-width="0.7"/>
<path d="M442.25 83.34V104.46M440.95 83.34H443.55M440.95 104.46H443.55" stroke="#777777" stroke-width="0.7" fill="none"/>
<path d="M443.81 93.9L440.95 92.34L440.95 95.46Z" fill="#fff" stroke="#777777" stroke-width="0.7"/>
<path d="M471.75 90.06V116.94M470.45 90.06H473.05M470.45 116.94H473.05" stroke="#777777" stroke-width="0.7" fill="none"/>
<path d="M473.31 103.5L470.45 101.94L470.45 105.06Z" fill="#fff" stroke="#777777" stroke-width="0.7"/>
<path d="M501.25 90.38V123.02M499.95 90.38H502.55M499.95 123.02H502.55" stroke="#777777" stroke-width="0.7" fill="none"/>
<path d="M502.81 106.7L499.95 105.14L499.95 108.26Z" fill="#fff" stroke="#777777" stroke-width="0.7"/>
<path d="M377.1 12.3V140.3H506.7" stroke="#333" stroke-width="1" fill="none"/>
<path d="M377.1 140.3H380.1" stroke="#333" stroke-width="1"/>
<text x="373.5" y="143.2" font-size="10" font-weight="bold" text-anchor="end">1</text>
<path d="M377.1 124.3H380.1" stroke="#333" stroke-width="1"/>
<text x="373.5" y="127.2" font-size="10" font-weight="bold" text-anchor="end">2</text>
<path d="M377.1 108.3H380.1" stroke="#333" stroke-width="1"/>
<text x="373.5" y="111.2" font-size="10" font-weight="bold" text-anchor="end">3</text>
<path d="M377.1 92.3H380.1" stroke="#333" stroke-width="1"/>
<text x="373.5" y="95.2" font-size="10" font-weight="bold" text-anchor="end">4</text>
<path d="M377.1 76.3H380.1" stroke="#333" stroke-width="1"/>
<text x="373.5" y="79.2" font-size="10" font-weight="bold" text-anchor="end">5</text>
<path d="M377.1 60.3H380.1" stroke="#333" stroke-width="1"/>
<text x="373.5" y="63.2" font-size="10" font-weight="bold" text-anchor="end">6</text>
<path d="M377.1 44.3H380.1" stroke="#333" stroke-width="1"/>
<text x="373.5" y="47.2" font-size="10" font-weight="bold" text-anchor="end">7</text>
<path d="M377.1 28.3H380.1" stroke="#333" stroke-width="1"/>
<text x="373.5" y="31.2" font-size="10" font-weight="bold" text-anchor="end">8</text>
<path d="M377.1 12.3H380.1" stroke="#333" stroke-width="1"/>
<text x="373.5" y="15.2" font-size="10" font-weight="bold" text-anchor="end">9</text>
<path d="M383.25 140.3V137.3" stroke="#333" stroke-width="1"/>
<path d="M412.75 140.3V137.3" stroke="#333" stroke-width="1"/>
<path d="M442.25 140.3V137.3" stroke="#333" stroke-width="1"/>
<path d="M471.75 140.3V137.3" stroke="#333" stroke-width="1"/>
<path d="M501.25 140.3V137.3" stroke="#333" stroke-width="1"/>
<text transform="translate(386.25 154.9) rotate(-19)" font-size="9.5" fill="#383838" text-anchor="middle">8:00-10:00</text>
<text transform="translate(415.75 154.9) rotate(-19)" font-size="9.5" fill="#383838" text-anchor="middle">10:00-12:00</text>
<text transform="translate(445.25 154.9) rotate(-19)" font-size="9.5" fill="#383838" text-anchor="middle">12:00-14:00</text>
<text transform="translate(474.75 154.9) rotate(-19)" font-size="9.5" fill="#383838" text-anchor="middle">14:00-16:00</text>
<text transform="translate(504.25 154.9) rotate(-19)" font-size="9.5" fill="#383838" text-anchor="middle">16:00-18:00</text>
<text x="444.8" y="166" font-size="17" font-weight="bold" text-anchor="middle">c</text>
<path d="M377.1 4.6V12.3" stroke="#333" stroke-width="1"/>
<rect x="83.0" y="187.1" width="22.5" height="15.8" rx="1.5" fill="#c0c0c0"/>
<text x="94.25" y="198.3" font-size="10.3" font-weight="bold" text-anchor="middle" textLength="18.95" lengthAdjust="spacingAndGlyphs">2021</text>
<polyline points="35.6,236.53 65.1,189.03 94.6,232.91 124.1,209.39 153.6,274.97" fill="none" stroke="#000000" stroke-width="0.8"/>
<polyline points="35.6,243.31 65.1,187.67 94.6,237.43 124.1,207.12 153.6,281.76" fill="none" stroke="#ff0000" stroke-width="0.8"/>
<polyline points="35.6,232 65.1,195.82 94.6,234.72 124.1,213.91 153.6,270.45" fill="none" stroke="#0000ff" stroke-width="0.8"/>
<polyline points="35.6,250.1 65.1,218.43 94.6,257.33 124.1,241.05 153.6,284.02" fill="none" stroke="#ff00ff" stroke-width="0.8"/>
<polyline points="35.6,238.79 65.1,200.34 94.6,259.14 124.1,238.79 153.6,272.71" fill="none" stroke="#808000" stroke-width="0.8"/>
<polyline points="35.6,234.26 65.1,202.6 94.6,245.57 124.1,216.17 153.6,277.24" fill="none" stroke="#ff8000" stroke-width="0.8"/>
<polyline points="35.6,245.57 65.1,220.69 94.6,260.5 124.1,243.31 153.6,286.28" fill="none" stroke="#8000ff" stroke-width="0.8"/>
<polyline points="35.6,229.74 65.1,186.77 94.6,230.65 124.1,209.39 153.6,268.19" fill="none" stroke="#990000" stroke-width="0.8"/>
<polyline points="35.6,241.05 65.1,193.55 94.6,241.95 124.1,218.43 153.6,279.5" fill="none" stroke="#008080" stroke-width="0.8"/>
<polyline points="35.6,241.95 65.1,209.39 94.6,251.91 124.1,222.96 153.6,273.62" fill="none" stroke="#3355ff" stroke-width="0.8"/>
<polyline points="35.6,232.91 65.1,198.08 94.6,248.74 124.1,211.65 153.6,265.93" fill="none" stroke="#22a022" stroke-width="0.8"/>
<polyline points="35.6,247.83 65.1,220.69 94.6,256.43 124.1,241.05 153.6,285.38" fill="none" stroke="#000080" stroke-width="0.8"/>
<polyline points="35.6,251 65.1,216.17 94.6,259.6 124.1,241.95 153.6,280.86" fill="none" stroke="#ff3399" stroke-width="0.8"/>
<polyline points="35.6,237.43 65.1,192.2 94.6,236.07 124.1,220.69 153.6,282.66" fill="none" stroke="#33aaff" stroke-width="0.8"/>
<polyline points="35.6,244.67 65.1,204.86 94.6,232 124.1,241.95 153.6,276.33" fill="none" stroke="#a0602d" stroke-width="0.8"/>
<polyline points="35.6,231.1 65.1,213.91 94.6,253.72 124.1,227.48 153.6,262.76" fill="none" stroke="#777777" stroke-width="0.8"/>
<path d="M35.6 231.1V241.95M34.3 231.1H36.9M34.3 241.95H36.9" stroke="#000000" stroke-width="0.7" fill="none"/>
<circle cx="35.6" cy="236.53" r="1.3" fill="#000000"/>
<path d="M65.1 181.98V196.09M63.8 181.98H66.4M63.8 196.09H66.4" stroke="#000000" stroke-width="0.7" fill="none"/>
<circle cx="65.1" cy="189.03" r="1.3" fill="#000000"/>
<path d="M94.6 224.22V241.59M93.3 224.22H95.9M93.3 241.59H95.9" stroke="#000000" stroke-width="0.7" fill="none"/>
<circle cx="94.6" cy="232.91" r="1.3" fill="#000000"/>
<path d="M124.1 199.07V219.7M122.8 199.07H125.4M122.8 219.7H125.4" stroke="#000000" stroke-width="0.7" fill="none"/>
<circle cx="124.1" cy="209.39" r="1.3" fill="#000000"/>
<path d="M153.6 268.46V281.49M152.3 268.46H154.9M152.3 281.49H154.9" stroke="#000000" stroke-width="0.7" fill="none"/>
<circle cx="153.6" cy="274.97" r="1.3" fill="#000000"/>
<path d="M35.6 234.08V252.54M34.3 234.08H36.9M34.3 252.54H36.9" stroke="#ff0000" stroke-width="0.7" fill="none"/>
<circle cx="35.6" cy="243.31" r="1.3" fill="#ff0000"/>
<path d="M65.1 182.25V193.1M63.8 182.25H66.4M63.8 193.1H66.4" stroke="#ff0000" stroke-width="0.7" fill="none"/>
<circle cx="65.1" cy="187.67" r="1.3" fill="#ff0000"/>
<path d="M94.6 230.37V244.49M93.3 230.37H95.9M93.3 244.49H95.9" stroke="#ff0000" stroke-width="0.7" fill="none"/>
<circle cx="94.6" cy="237.43" r="1.3" fill="#ff0000"/>
<path d="M124.1 198.44V215.81M122.8 198.44H125.4M122.8 215.81H125.4" stroke="#ff0000" stroke-width="0.7" fill="none"/>
<circle cx="124.1" cy="207.12" r="1.3" fill="#ff0000"/>
<path d="M153.6 271.45V292.07M152.3 271.45H154.9M152.3 292.07H154.9" stroke="#ff0000" stroke-width="0.7" fill="none"/>
<circle cx="153.6" cy="281.76" r="1.3" fill="#ff0000"/>
<path d="M35.6 224.4V239.6M34.3 224.4H36.9M34.3 239.6H36.9" stroke="#0000ff" stroke-width="0.7" fill="none"/>
<path d="M35.6 229.79L37.16 232.65L34.04 232.65Z" fill="#0000ff"/>
<path d="M65.1 186.59V205.04M63.8 186.59H66.4M63.8 205.04H66.4" stroke="#0000ff" stroke-width="0.7" fill="none"/>
<path d="M65.1 193.61L66.66 196.47L63.54 196.47Z" fill="#0000ff"/>
<path d="M94.6 229.29V240.15M93.3 229.29H95.9M93.3 240.15H95.9" stroke="#0000ff" stroke-width="0.7" fill="none"/>
<path d="M94.6 232.51L96.16 235.37L93.04 235.37Z" fill="#0000ff"/>
<path d="M124.1 206.85V220.97M122.8 206.85H125.4M122.8 220.97H125.4" stroke="#0000ff" stroke-width="0.7" fill="none"/>
<path d="M124.1 211.7L125.66 214.56L122.54 214.56Z" fill="#0000ff"/>
<path d="M153.6 261.77V279.14M152.3 261.77H154.9M152.3 279.14H154.9" stroke="#0000ff" stroke-width="0.7" fill="none"/>
<path d="M153.6 268.24L155.16 271.1L152.04 271.1Z" fill="#0000ff"/>
<path d="M35.6 244.13V256.07M34.3 244.13H36.9M34.3 256.07H36.9" stroke="#ff00ff" stroke-width="0.7" fill="none"/>
<rect x="34.3" y="248.8" width="2.6" height="2.6" fill="#ff00ff"/>
<path d="M65.1 210.83V226.03M63.8 210.83H66.4M63.8 226.03H66.4" stroke="#ff00ff" stroke-width="0.7" fill="none"/>
<rect x="63.8" y="217.13" width="2.6" height="2.6" fill="#ff00ff"/>
<path d="M94.6 248.11V266.56M93.3 248.11H95.9M93.3 266.56H95.9" stroke="#ff00ff" stroke-width="0.7" fill="none"/>
<rect x="93.3" y="256.03" width="2.6" height="2.6" fill="#ff00ff"/>
<path d="M124.1 235.62V246.48M122.8 235.62H125.4M122.8 246.48H125.4" stroke="#ff00ff" stroke-width="0.7" fill="none"/>
<rect x="122.8" y="239.75" width="2.6" height="2.6" fill="#ff00ff"/>
<path d="M153.6 276.97V291.08M152.3 276.97H154.9M152.3 291.08H154.9" stroke="#ff00ff" stroke-width="0.7" fill="none"/>
<rect x="152.3" y="282.72" width="2.6" height="2.6" fill="#ff00ff"/>
<path d="M35.6 229.02V248.56M34.3 229.02H36.9M34.3 248.56H36.9" stroke="#808000" stroke-width="0.7" fill="none"/>
<path d="M35.6 237.1L37.29 238.79L35.6 240.48L33.91 238.79Z" fill="#808000"/>
<path d="M65.1 194.37V206.31M63.8 194.37H66.4M63.8 206.31H66.4" stroke="#808000" stroke-width="0.7" fill="none"/>
<path d="M65.1 198.65L66.79 200.34L65.1 202.03L63.41 200.34Z" fill="#808000"/>
<path d="M94.6 251.54V266.74M93.3 251.54H95.9M93.3 266.74H95.9" stroke="#808000" stroke-width="0.7" fill="none"/>
<path d="M94.6 257.45L96.29 259.14L94.6 260.83L92.91 259.14Z" fill="#808000"/>
<path d="M124.1 229.56V248.02M122.8 229.56H125.4M122.8 248.02H125.4" stroke="#808000" stroke-width="0.7" fill="none"/>
<path d="M124.1 237.1L125.79 238.79L124.1 240.48L122.41 238.79Z" fill="#808000"/>
<path d="M153.6 267.29V278.14M152.3 267.29H154.9M152.3 278.14H154.9" stroke="#808000" stroke-width="0.7" fill="none"/>
<path d="M153.6 271.02L155.29 272.71L153.6 274.4L151.91 272.71Z" fill="#808000"/>
<path d="M35.6 226.12V242.41M34.3 226.12H36.9M34.3 242.41H36.9" stroke="#ff8000" stroke-width="0.7" fill="none"/>
<path d="M34.04 234.26L36.9 232.7L36.9 235.82Z" fill="#ff8000"/>
<path d="M65.1 192.83V212.37M63.8 192.83H66.4M63.8 212.37H66.4" stroke="#ff8000" stroke-width="0.7" fill="none"/>
<path d="M63.54 202.6L66.4 201.04L66.4 204.16Z" fill="#ff8000"/>
<path d="M94.6 239.6V251.54M93.3 239.6H95.9M93.3 251.54H95.9" stroke="#ff8000" stroke-width="0.7" fill="none"/>
<path d="M93.04 245.57L95.9 244.01L95.9 247.13Z" fill="#ff8000"/>
<path d="M124.1 208.57V223.77M122.8 208.57H125.4M122.8 223.77H125.4" stroke="#ff8000" stroke-width="0.7" fill="none"/>
<path d="M122.54 216.17L125.4 214.61L125.4 217.73Z" fill="#ff8000"/>
<path d="M153.6 268.01V286.46M152.3 268.01H154.9M152.3 286.46H154.9" stroke="#ff8000" stroke-width="0.7" fill="none"/>
<path d="M152.04 277.24L154.9 275.68L154.9 278.8Z" fill="#ff8000"/>
<path d="M35.6 239.06V252.09M34.3 239.06H36.9M34.3 252.09H36.9" stroke="#8000ff" stroke-width="0.7" fill="none"/>
<path d="M37.16 245.57L34.3 244.01L34.3 247.13Z" fill="#8000ff"/>
<path d="M65.1 212.55V228.84M63.8 212.55H66.4M63.8 228.84H66.4" stroke="#8000ff" stroke-width="0.7" fill="none"/>
<path d="M66.66 220.69L63.8 219.13L63.8 222.25Z" fill="#8000ff"/>
<path d="M94.6 250.73V270.27M93.3 250.73H95.9M93.3 270.27H95.9" stroke="#8000ff" stroke-width="0.7" fill="none"/>
<path d="M96.16 260.5L93.3 258.94L93.3 262.06Z" fill="#8000ff"/>
<path d="M124.1 237.34V249.28M122.8 237.34H125.4M122.8 249.28H125.4" stroke="#8000ff" stroke-width="0.7" fill="none"/>
<path d="M125.66 243.31L122.8 241.75L122.8 244.87Z" fill="#8000ff"/>
<path d="M153.6 278.68V293.88M152.3 278.68H154.9M152.3 293.88H154.9" stroke="#8000ff" stroke-width="0.7" fill="none"/>
<path d="M155.16 286.28L152.3 284.72L152.3 287.84Z" fill="#8000ff"/>
<path d="M35.6 219.43V240.05M34.3 219.43H36.9M34.3 240.05H36.9" stroke="#990000" stroke-width="0.7" fill="none"/>
<circle cx="35.6" cy="229.74" r="1.3" fill="#990000"/>
<path d="M65.1 180.26V193.28M63.8 180.26H66.4M63.8 193.28H66.4" stroke="#990000" stroke-width="0.7" fill="none"/>
<circle cx="65.1" cy="186.77" r="1.3" fill="#990000"/>
<path d="M94.6 222.5V238.79M93.3 222.5H95.9M93.3 238.79H95.9" stroke="#990000" stroke-width="0.7" fill="none"/>
<circle cx="94.6" cy="230.65" r="1.3" fill="#990000"/>
<path d="M124.1 199.62V219.16M122.8 199.62H125.4M122.8 219.16H125.4" stroke="#990000" stroke-width="0.7" fill="none"/>
<circle cx="124.1" cy="209.39" r="1.3" fill="#990000"/>
<path d="M153.6 262.22V274.16M152.3 262.22H154.9M152.3 274.16H154.9" stroke="#990000" stroke-width="0.7" fill="none"/>
<circle cx="153.6" cy="268.19" r="1.3" fill="#990000"/>
<path d="M35.6 232.37V249.73M34.3 232.37H36.9M34.3 249.73H36.9" stroke="#008080" stroke-width="0.7" fill="none"/>
<path d="M35.6 238.84L37.16 241.7L34.04 241.7Z" fill="#008080"/>
<path d="M65.1 183.24V203.87M63.8 183.24H66.4M63.8 203.87H66.4" stroke="#008080" stroke-width="0.7" fill="none"/>
<path d="M65.1 191.34L66.66 194.2L63.54 194.2Z" fill="#008080"/>
<path d="M94.6 235.44V248.47M93.3 235.44H95.9M93.3 248.47H95.9" stroke="#008080" stroke-width="0.7" fill="none"/>
<path d="M94.6 239.74L96.16 242.6L93.04 242.6Z" fill="#008080"/>
<path d="M124.1 210.29V226.58M122.8 210.29H125.4M122.8 226.58H125.4" stroke="#008080" stroke-width="0.7" fill="none"/>
<path d="M124.1 216.22L125.66 219.08L122.54 219.08Z" fill="#008080"/>
<path d="M153.6 269.73V289.27M152.3 269.73H154.9M152.3 289.27H154.9" stroke="#008080" stroke-width="0.7" fill="none"/>
<path d="M153.6 277.29L155.16 280.15L152.04 280.15Z" fill="#008080"/>
<path d="M35.6 234.9V249.01M34.3 234.9H36.9M34.3 249.01H36.9" stroke="#3355ff" stroke-width="0.7" fill="none"/>
<circle cx="35.6" cy="241.95" r="1.3" fill="#3355ff"/>
<path d="M65.1 200.7V218.07M63.8 200.7H66.4M63.8 218.07H66.4" stroke="#3355ff" stroke-width="0.7" fill="none"/>
<circle cx="65.1" cy="209.39" r="1.3" fill="#3355ff"/>
<path d="M94.6 241.59V262.22M93.3 241.59H95.9M93.3 262.22H95.9" stroke="#3355ff" stroke-width="0.7" fill="none"/>
<circle cx="94.6" cy="251.91" r="1.3" fill="#3355ff"/>
<path d="M124.1 216.44V229.47M122.8 216.44H125.4M122.8 229.47H125.4" stroke="#3355ff" stroke-width="0.7" fill="none"/>
<circle cx="124.1" cy="222.96" r="1.3" fill="#3355ff"/>
<path d="M153.6 265.48V281.76M152.3 265.48H154.9M152.3 281.76H154.9" stroke="#3355ff" stroke-width="0.7" fill="none"/>
<circle cx="153.6" cy="273.62" r="1.3" fill="#3355ff"/>
<path d="M35.6 227.48V238.34M34.3 227.48H36.9M34.3 238.34H36.9" stroke="#22a022" stroke-width="0.7" fill="none"/>
<path d="M35.6 230.7L37.16 233.56L34.04 233.56Z" fill="#22a022"/>
<path d="M65.1 191.02V205.13M63.8 191.02H66.4M63.8 205.13H66.4" stroke="#22a022" stroke-width="0.7" fill="none"/>
<path d="M65.1 195.87L66.66 198.73L63.54 198.73Z" fill="#22a022"/>
<path d="M94.6 240.05V257.42M93.3 240.05H95.9M93.3 257.42H95.9" stroke="#22a022" stroke-width="0.7" fill="none"/>
<path d="M94.6 246.53L96.16 249.39L93.04 249.39Z" fill="#22a022"/>
<path d="M124.1 201.34V221.96M122.8 201.34H125.4M122.8 221.96H125.4" stroke="#22a022" stroke-width="0.7" fill="none"/>
<path d="M124.1 209.44L125.66 212.3L122.54 212.3Z" fill="#22a022"/>
<path d="M153.6 259.41V272.44M152.3 259.41H154.9M152.3 272.44H154.9" stroke="#22a022" stroke-width="0.7" fill="none"/>
<path d="M153.6 263.72L155.16 266.58L152.04 266.58Z" fill="#22a022"/>
<path d="M35.6 238.61V257.06M34.3 238.61H36.9M34.3 257.06H36.9" stroke="#000080" stroke-width="0.7" fill="none"/>
<path d="M35.6 246.14V249.52M33.91 247.83H37.29" stroke="#000080" stroke-width="0.8"/>
<path d="M65.1 215.27V226.12M63.8 215.27H66.4M63.8 226.12H66.4" stroke="#000080" stroke-width="0.7" fill="none"/>
<path d="M65.1 219V222.38M63.41 220.69H66.79" stroke="#000080" stroke-width="0.8"/>
<path d="M94.6 249.37V263.49M93.3 249.37H95.9M93.3 263.49H95.9" stroke="#000080" stroke-width="0.7" fill="none"/>
<path d="M94.6 254.74V258.12M92.91 256.43H96.29" stroke="#000080" stroke-width="0.8"/>
<path d="M124.1 232.37V249.73M122.8 232.37H125.4M122.8 249.73H125.4" stroke="#000080" stroke-width="0.7" fill="none"/>
<path d="M124.1 239.36V242.74M122.41 241.05H125.79" stroke="#000080" stroke-width="0.8"/>
<path d="M153.6 275.07V295.69M152.3 275.07H154.9M152.3 295.69H154.9" stroke="#000080" stroke-width="0.7" fill="none"/>
<path d="M153.6 283.69V287.07M151.91 285.38H155.29" stroke="#000080" stroke-width="0.8"/>
<path d="M35.6 243.4V258.6M34.3 243.4H36.9M34.3 258.6H36.9" stroke="#ff3399" stroke-width="0.7" fill="none"/>
<path d="M34.3 249.7L36.9 252.3M34.3 252.3L36.9 249.7" stroke="#ff3399" stroke-width="0.8"/>
<path d="M65.1 206.94V225.4M63.8 206.94H66.4M63.8 225.4H66.4" stroke="#ff3399" stroke-width="0.7" fill="none"/>
<path d="M63.8 214.87L66.4 217.47M63.8 217.47L66.4 214.87" stroke="#ff3399" stroke-width="0.8"/>
<path d="M94.6 254.17V265.02M93.3 254.17H95.9M93.3 265.02H95.9" stroke="#ff3399" stroke-width="0.7" fill="none"/>
<path d="M93.3 258.3L95.9 260.9M93.3 260.9L95.9 258.3" stroke="#ff3399" stroke-width="0.8"/>
<path d="M124.1 234.9V249.01M122.8 234.9H125.4M122.8 249.01H125.4" stroke="#ff3399" stroke-width="0.7" fill="none"/>
<path d="M122.8 240.65L125.4 243.25M122.8 243.25L125.4 240.65" stroke="#ff3399" stroke-width="0.8"/>
<path d="M153.6 272.17V289.54M152.3 272.17H154.9M152.3 289.54H154.9" stroke="#ff3399" stroke-width="0.7" fill="none"/>
<path d="M152.3 279.56L154.9 282.16M152.3 282.16L154.9 279.56" stroke="#ff3399" stroke-width="0.8"/>
<path d="M35.6 231.46V243.4M34.3 231.46H36.9M34.3 243.4H36.9" stroke="#33aaff" stroke-width="0.7" fill="none"/>
<path d="M34.3 236.13L36.9 238.73M34.3 238.73L36.9 236.13" stroke="#33aaff" stroke-width="0.8"/>
<path d="M65.1 184.6V199.8M63.8 184.6H66.4M63.8 199.8H66.4" stroke="#33aaff" stroke-width="0.7" fill="none"/>
<path d="M63.8 190.9L66.4 193.5M63.8 193.5L66.4 190.9" stroke="#33aaff" stroke-width="0.8"/>
<path d="M94.6 226.85V245.3M93.3 226.85H95.9M93.3 245.3H95.9" stroke="#33aaff" stroke-width="0.7" fill="none"/>
<path d="M93.3 234.77L95.9 237.37M93.3 237.37L95.9 234.77" stroke="#33aaff" stroke-width="0.8"/>
<path d="M124.1 215.27V226.12M122.8 215.27H125.4M122.8 226.12H125.4" stroke="#33aaff" stroke-width="0.7" fill="none"/>
<path d="M122.8 219.39L125.4 222M122.8 222L125.4 219.39" stroke="#33aaff" stroke-width="0.8"/>
<path d="M153.6 275.61V289.72M152.3 275.61H154.9M152.3 289.72H154.9" stroke="#33aaff" stroke-width="0.7" fill="none"/>
<path d="M152.3 281.36L154.9 283.96M152.3 283.96L154.9 281.36" stroke="#33aaff" stroke-width="0.8"/>
<path d="M35.6 234.9V254.44M34.3 234.9H36.9M34.3 254.44H36.9" stroke="#a0602d" stroke-width="0.7" fill="none"/>
<circle cx="35.6" cy="244.67" r="1.3" fill="#a0602d"/>
<path d="M65.1 198.89V210.83M63.8 198.89H66.4M63.8 210.83H66.4" stroke="#a0602d" stroke-width="0.7" fill="none"/>
<circle cx="65.1" cy="204.86" r="1.3" fill="#a0602d"/>
<path d="M94.6 224.4V239.6M93.3 224.4H95.9M93.3 239.6H95.9" stroke="#a0602d" stroke-width="0.7" fill="none"/>
<circle cx="94.6" cy="232" r="1.3" fill="#a0602d"/>
<path d="M124.1 232.73V251.18M122.8 232.73H125.4M122.8 251.18H125.4" stroke="#a0602d" stroke-width="0.7" fill="none"/>
<circle cx="124.1" cy="241.95" r="1.3" fill="#a0602d"/>
<path d="M153.6 270.9V281.76M152.3 270.9H154.9M152.3 281.76H154.9" stroke="#a0602d" stroke-width="0.7" fill="none"/>
<circle cx="153.6" cy="276.33" r="1.3" fill="#a0602d"/>
<path d="M35.6 222.96V239.24M34.3 222.96H36.9M34.3 239.24H36.9" stroke="#777777" stroke-width="0.7" fill="none"/>
<path d="M37.16 231.1L34.3 229.54L34.3 232.66Z" fill="#fff" stroke="#777777" stroke-width="0.7"/>
<path d="M65.1 204.14V223.68M63.8 204.14H66.4M63.8 223.68H66.4" stroke="#777777" stroke-width="0.7" fill="none"/>
<path d="M66.66 213.91L63.8 212.35L63.8 215.47Z" fill="#fff" stroke="#777777" stroke-width="0.7"/>
<path d="M94.6 247.74V259.69M93.3 247.74H95.9M93.3 259.69H95.9" stroke="#777777" stroke-width="0.7" fill="none"/>
<path d="M96.16 253.72L93.3 252.16L93.3 255.28Z" fill="#fff" stroke="#777777" stroke-width="0.7"/>
<path d="M124.1 219.88V235.08M122.8 219.88H125.4M122.8 235.08H125.4" stroke="#777777" stroke-width="0.7" fill="none"/>
<path d="M125.66 227.48L122.8 225.92L122.8 229.04Z" fill="#fff" stroke="#777777" stroke-width="0.7"/>
<path d="M153.6 253.53V271.99M152.3 253.53H154.9M152.3 271.99H154.9" stroke="#777777" stroke-width="0.7" fill="none"/>
<path d="M155.16 262.76L152.3 261.2L152.3 264.32Z" fill="#fff" stroke="#777777" stroke-width="0.7"/>
<path d="M29.45 173.2V308.9H159.05" stroke="#333" stroke-width="1" fill="none"/>
<path d="M29.45 308.9H32.45" stroke="#333" stroke-width="1"/>
<text x="25.85" y="311.8" font-size="10" font-weight="bold" text-anchor="end">0</text>
<path d="M29.45 286.28H32.45" stroke="#333" stroke-width="1"/>
<text x="25.85" y="289.18" font-size="10" font-weight="bold" text-anchor="end">5</text>
<path d="M29.45 263.67H32.45" stroke="#333" stroke-width="1"/>
<text x="25.85" y="266.57" font-size="10" font-weight="bold" text-anchor="end">10</text>
<path d="M29.45 241.05H32.45" stroke="#333" stroke-width="1"/>
<text x="25.85" y="243.95" font-size="10" font-weight="bold" text-anchor="end">15</text>
<path d="M29.45 218.43H32.45" stroke="#333" stroke-width="1"/>
<text x="25.85" y="221.33" font-size="10" font-weight="bold" text-anchor="end">20</text>
<path d="M29.45 195.82H32.45" stroke="#333" stroke-width="1"/>
<text x="25.85" y="198.72" font-size="10" font-weight="bold" text-anchor="end">25</text>
<path d="M29.45 173.2H32.45" stroke="#333" stroke-width="1"/>
<text x="25.85" y="176.1" font-size="10" font-weight="bold" text-anchor="end">30</text>
<path d="M35.6 308.9V305.9" stroke="#333" stroke-width="1"/>
<path d="M65.1 308.9V305.9" stroke="#333" stroke-width="1"/>
<path d="M94.6 308.9V305.9" stroke="#333" stroke-width="1"/>
<path d="M124.1 308.9V305.9" stroke="#333" stroke-width="1"/>
<path d="M153.6 308.9V305.9" stroke="#333" stroke-width="1"/>
<text transform="translate(38.6 322.6) rotate(-19)" font-size="9.5" fill="#383838" text-anchor="middle">8:00-10:00</text>
<text transform="translate(68.1 322.6) rotate(-19)" font-size="9.5" fill="#383838" text-anchor="middle">10:00-12:00</text>
<text transform="translate(97.6 322.6) rotate(-19)" font-size="9.5" fill="#383838" text-anchor="middle">12:00-14:00</text>
<text transform="translate(127.1 322.6) rotate(-19)" font-size="9.5" fill="#383838" text-anchor="middle">14:00-16:00</text>
<text transform="translate(156.6 322.6) rotate(-19)" font-size="9.5" fill="#383838" text-anchor="middle">16:00-18:00</text>
<text x="98.6" y="334.5" font-size="17" font-weight="bold" text-anchor="middle">e</text>
<rect x="438.9" y="187.1" width="22.2" height="15.8" rx="1.5" fill="#c0c0c0"/>
<text x="450" y="198.3" font-size="10.3" font-weight="bold" text-anchor="middle" textLength="18.95" lengthAdjust="spacingAndGlyphs">2022</text>
<polyline points="382.95,241.05 412.45,193.55 441.95,238.79 471.45,218.43 500.95,277.24" fill="none" stroke="#000000" stroke-width="0.8"/>
<polyline points="382.95,245.57 412.45,189.03 441.95,243.31 471.45,216.17 500.95,272.71" fill="none" stroke="#ff0000" stroke-width="0.8"/>
<polyline points="382.95,232.91 412.45,200.34 441.95,241.05 471.45,222.96 500.95,279.5" fill="none" stroke="#0000ff" stroke-width="0.8"/>
<polyline points="382.95,254.62 412.45,232 441.95,259.14 471.45,250.1 500.95,288.54" fill="none" stroke="#ff00ff" stroke-width="0.8"/>
<polyline points="382.95,238.79 412.45,204.86 441.95,252.36 471.45,247.83 500.95,274.97" fill="none" stroke="#808000" stroke-width="0.8"/>
<polyline points="382.95,243.31 412.45,209.39 441.95,247.83 471.45,225.22 500.95,270.45" fill="none" stroke="#ff8000" stroke-width="0.8"/>
<polyline points="382.95,250.1 412.45,225.22 441.95,256.88 471.45,252.36 500.95,286.28" fill="none" stroke="#8000ff" stroke-width="0.8"/>
<polyline points="382.95,234.26 412.45,191.29 441.95,236.53 471.45,218.43 500.95,273.62" fill="none" stroke="#990000" stroke-width="0.8"/>
<polyline points="382.95,241.95 412.45,213.91 441.95,250.1 471.45,232 500.95,281.76" fill="none" stroke="#008080" stroke-width="0.8"/>
<polyline points="382.95,237.43 412.45,218.43 441.95,245.57 471.45,227.48 500.95,284.02" fill="none" stroke="#3355ff" stroke-width="0.8"/>
<polyline points="382.95,235.62 412.45,202.6 441.95,250.1 471.45,229.74 500.95,276.33" fill="none" stroke="#22a022" stroke-width="0.8"/>
<polyline points="382.95,247.83 412.45,234.26 441.95,254.62 471.45,250.1 500.95,289.9" fill="none" stroke="#000080" stroke-width="0.8"/>
<polyline points="382.95,252.36 412.45,227.48 441.95,258.24 471.45,251 500.95,282.66" fill="none" stroke="#ff3399" stroke-width="0.8"/>
<polyline points="382.95,240.15 412.45,207.12 441.95,241.95 471.45,234.26 500.95,278.14" fill="none" stroke="#33aaff" stroke-width="0.8"/>
<polyline points="382.95,246.48 412.45,220.69 441.95,237.43 471.45,247.83 500.95,280.86" fill="none" stroke="#a0602d" stroke-width="0.8"/>
<polyline points="382.95,232.91 412.45,235.62 441.95,253.72 471.45,228.38 500.95,271.81" fill="none" stroke="#777777" stroke-width="0.8"/>
<path d="M382.95 235.62V246.48M381.65 235.62H384.25M381.65 246.48H384.25" stroke="#000000" stroke-width="0.7" fill="none"/>
<circle cx="382.95" cy="241.05" r="1.3" fill="#000000"/>
<path d="M412.45 186.5V200.61M411.15 186.5H413.75M411.15 200.61H413.75" stroke="#000000" stroke-width="0.7" fill="none"/>
<circle cx="412.45" cy="193.55" r="1.3" fill="#000000"/>
<path d="M441.95 230.1V247.47M440.65 230.1H443.25M440.65 247.47H443.25" stroke="#000000" stroke-width="0.7" fill="none"/>
<circle cx="441.95" cy="238.79" r="1.3" fill="#000000"/>
<path d="M471.45 208.12V228.75M470.15 208.12H472.75M470.15 228.75H472.75" stroke="#000000" stroke-width="0.7" fill="none"/>
<circle cx="471.45" cy="218.43" r="1.3" fill="#000000"/>
<path d="M500.95 270.72V283.75M499.65 270.72H502.25M499.65 283.75H502.25" stroke="#000000" stroke-width="0.7" fill="none"/>
<circle cx="500.95" cy="277.24" r="1.3" fill="#000000"/>
<path d="M382.95 236.35V254.8M381.65 236.35H384.25M381.65 254.8H384.25" stroke="#ff0000" stroke-width="0.7" fill="none"/>
<circle cx="382.95" cy="245.57" r="1.3" fill="#ff0000"/>
<path d="M412.45 183.6V194.46M411.15 183.6H413.75M411.15 194.46H413.75" stroke="#ff0000" stroke-width="0.7" fill="none"/>
<circle cx="412.45" cy="189.03" r="1.3" fill="#ff0000"/>
<path d="M441.95 236.26V250.37M440.65 236.26H443.25M440.65 250.37H443.25" stroke="#ff0000" stroke-width="0.7" fill="none"/>
<circle cx="441.95" cy="243.31" r="1.3" fill="#ff0000"/>
<path d="M471.45 207.49V224.86M470.15 207.49H472.75M470.15 224.86H472.75" stroke="#ff0000" stroke-width="0.7" fill="none"/>
<circle cx="471.45" cy="216.17" r="1.3" fill="#ff0000"/>
<path d="M500.95 262.4V283.03M499.65 262.4H502.25M499.65 283.03H502.25" stroke="#ff0000" stroke-width="0.7" fill="none"/>
<circle cx="500.95" cy="272.71" r="1.3" fill="#ff0000"/>
<path d="M382.95 225.31V240.51M381.65 225.31H384.25M381.65 240.51H384.25" stroke="#0000ff" stroke-width="0.7" fill="none"/>
<path d="M382.95 230.7L384.51 233.56L381.39 233.56Z" fill="#0000ff"/>
<path d="M412.45 191.11V209.57M411.15 191.11H413.75M411.15 209.57H413.75" stroke="#0000ff" stroke-width="0.7" fill="none"/>
<path d="M412.45 198.13L414.01 200.99L410.89 200.99Z" fill="#0000ff"/>
<path d="M441.95 235.62V246.48M440.65 235.62H443.25M440.65 246.48H443.25" stroke="#0000ff" stroke-width="0.7" fill="none"/>
<path d="M441.95 238.84L443.51 241.7L440.39 241.7Z" fill="#0000ff"/>
<path d="M471.45 215.9V230.01M470.15 215.9H472.75M470.15 230.01H472.75" stroke="#0000ff" stroke-width="0.7" fill="none"/>
<path d="M471.45 220.75L473.01 223.61L469.89 223.61Z" fill="#0000ff"/>
<path d="M500.95 270.81V288.18M499.65 270.81H502.25M499.65 288.18H502.25" stroke="#0000ff" stroke-width="0.7" fill="none"/>
<path d="M500.95 277.29L502.51 280.15L499.39 280.15Z" fill="#0000ff"/>
<path d="M382.95 248.65V260.59M381.65 248.65H384.25M381.65 260.59H384.25" stroke="#ff00ff" stroke-width="0.7" fill="none"/>
<rect x="381.65" y="253.32" width="2.6" height="2.6" fill="#ff00ff"/>
<path d="M412.45 224.4V239.6M411.15 224.4H413.75M411.15 239.6H413.75" stroke="#ff00ff" stroke-width="0.7" fill="none"/>
<rect x="411.15" y="230.7" width="2.6" height="2.6" fill="#ff00ff"/>
<path d="M441.95 249.92V268.37M440.65 249.92H443.25M440.65 268.37H443.25" stroke="#ff00ff" stroke-width="0.7" fill="none"/>
<rect x="440.65" y="257.84" width="2.6" height="2.6" fill="#ff00ff"/>
<path d="M471.45 244.67V255.52M470.15 244.67H472.75M470.15 255.52H472.75" stroke="#ff00ff" stroke-width="0.7" fill="none"/>
<rect x="470.15" y="248.8" width="2.6" height="2.6" fill="#ff00ff"/>
<path d="M500.95 281.49V295.6M499.65 281.49H502.25M499.65 295.6H502.25" stroke="#ff00ff" stroke-width="0.7" fill="none"/>
<rect x="499.65" y="287.24" width="2.6" height="2.6" fill="#ff00ff"/>
<path d="M382.95 229.02V248.56M381.65 229.02H384.25M381.65 248.56H384.25" stroke="#808000" stroke-width="0.7" fill="none"/>
<path d="M382.95 237.1L384.64 238.79L382.95 240.48L381.26 238.79Z" fill="#808000"/>
<path d="M412.45 198.89V210.83M411.15 198.89H413.75M411.15 210.83H413.75" stroke="#808000" stroke-width="0.7" fill="none"/>
<path d="M412.45 203.17L414.14 204.86L412.45 206.55L410.76 204.86Z" fill="#808000"/>
<path d="M441.95 244.76V259.96M440.65 244.76H443.25M440.65 259.96H443.25" stroke="#808000" stroke-width="0.7" fill="none"/>
<path d="M441.95 250.67L443.64 252.36L441.95 254.05L440.26 252.36Z" fill="#808000"/>
<path d="M471.45 238.61V257.06M470.15 238.61H472.75M470.15 257.06H472.75" stroke="#808000" stroke-width="0.7" fill="none"/>
<path d="M471.45 246.14L473.14 247.83L471.45 249.52L469.76 247.83Z" fill="#808000"/>
<path d="M500.95 269.55V280.4M499.65 269.55H502.25M499.65 280.4H502.25" stroke="#808000" stroke-width="0.7" fill="none"/>
<path d="M500.95 273.28L502.64 274.97L500.95 276.66L499.26 274.97Z" fill="#808000"/>
<path d="M382.95 235.17V251.45M381.65 235.17H384.25M381.65 251.45H384.25" stroke="#ff8000" stroke-width="0.7" fill="none"/>
<path d="M381.39 243.31L384.25 241.75L384.25 244.87Z" fill="#ff8000"/>
<path d="M412.45 199.62V219.16M411.15 199.62H413.75M411.15 219.16H413.75" stroke="#ff8000" stroke-width="0.7" fill="none"/>
<path d="M410.89 209.39L413.75 207.83L413.75 210.95Z" fill="#ff8000"/>
<path d="M441.95 241.86V253.81M440.65 241.86H443.25M440.65 253.81H443.25" stroke="#ff8000" stroke-width="0.7" fill="none"/>
<path d="M440.39 247.83L443.25 246.27L443.25 249.39Z" fill="#ff8000"/>
<path d="M471.45 217.62V232.82M470.15 217.62H472.75M470.15 232.82H472.75" stroke="#ff8000" stroke-width="0.7" fill="none"/>
<path d="M469.89 225.22L472.75 223.66L472.75 226.78Z" fill="#ff8000"/>
<path d="M500.95 261.22V279.68M499.65 261.22H502.25M499.65 279.68H502.25" stroke="#ff8000" stroke-width="0.7" fill="none"/>
<path d="M499.39 270.45L502.25 268.89L502.25 272.01Z" fill="#ff8000"/>
<path d="M382.95 243.58V256.61M381.65 243.58H384.25M381.65 256.61H384.25" stroke="#8000ff" stroke-width="0.7" fill="none"/>
<path d="M384.51 250.1L381.65 248.54L381.65 251.66Z" fill="#8000ff"/>
<path d="M412.45 217.08V233.36M411.15 217.08H413.75M411.15 233.36H413.75" stroke="#8000ff" stroke-width="0.7" fill="none"/>
<path d="M414.01 225.22L411.15 223.66L411.15 226.78Z" fill="#8000ff"/>
<path d="M441.95 247.11V266.65M440.65 247.11H443.25M440.65 266.65H443.25" stroke="#8000ff" stroke-width="0.7" fill="none"/>
<path d="M443.51 256.88L440.65 255.32L440.65 258.44Z" fill="#8000ff"/>
<path d="M471.45 246.39V258.33M470.15 246.39H472.75M470.15 258.33H472.75" stroke="#8000ff" stroke-width="0.7" fill="none"/>
<path d="M473.01 252.36L470.15 250.8L470.15 253.92Z" fill="#8000ff"/>
<path d="M500.95 278.68V293.88M499.65 278.68H502.25M499.65 293.88H502.25" stroke="#8000ff" stroke-width="0.7" fill="none"/>
<path d="M502.51 286.28L499.65 284.72L499.65 287.84Z" fill="#8000ff"/>
<path d="M382.95 223.95V244.58M381.65 223.95H384.25M381.65 244.58H384.25" stroke="#990000" stroke-width="0.7" fill="none"/>
<circle cx="382.95" cy="234.26" r="1.3" fill="#990000"/>
<path d="M412.45 184.78V197.81M411.15 184.78H413.75M411.15 197.81H413.75" stroke="#990000" stroke-width="0.7" fill="none"/>
<circle cx="412.45" cy="191.29" r="1.3" fill="#990000"/>
<path d="M441.95 228.38V244.67M440.65 228.38H443.25M440.65 244.67H443.25" stroke="#990000" stroke-width="0.7" fill="none"/>
<circle cx="441.95" cy="236.53" r="1.3" fill="#990000"/>
<path d="M471.45 208.66V228.2M470.15 208.66H472.75M470.15 228.2H472.75" stroke="#990000" stroke-width="0.7" fill="none"/>
<circle cx="471.45" cy="218.43" r="1.3" fill="#990000"/>
<path d="M500.95 267.65V279.59M499.65 267.65H502.25M499.65 279.59H502.25" stroke="#990000" stroke-width="0.7" fill="none"/>
<circle cx="500.95" cy="273.62" r="1.3" fill="#990000"/>
<path d="M382.95 233.27V250.64M381.65 233.27H384.25M381.65 250.64H384.25" stroke="#008080" stroke-width="0.7" fill="none"/>
<path d="M382.95 239.74L384.51 242.6L381.39 242.6Z" fill="#008080"/>
<path d="M412.45 203.6V224.22M411.15 203.6H413.75M411.15 224.22H413.75" stroke="#008080" stroke-width="0.7" fill="none"/>
<path d="M412.45 211.7L414.01 214.56L410.89 214.56Z" fill="#008080"/>
<path d="M441.95 243.58V256.61M440.65 243.58H443.25M440.65 256.61H443.25" stroke="#008080" stroke-width="0.7" fill="none"/>
<path d="M441.95 247.89L443.51 250.75L440.39 250.75Z" fill="#008080"/>
<path d="M471.45 223.86V240.15M470.15 223.86H472.75M470.15 240.15H472.75" stroke="#008080" stroke-width="0.7" fill="none"/>
<path d="M471.45 229.79L473.01 232.65L469.89 232.65Z" fill="#008080"/>
<path d="M500.95 271.99V291.53M499.65 271.99H502.25M499.65 291.53H502.25" stroke="#008080" stroke-width="0.7" fill="none"/>
<path d="M500.95 279.55L502.51 282.41L499.39 282.41Z" fill="#008080"/>
<path d="M382.95 230.37V244.49M381.65 230.37H384.25M381.65 244.49H384.25" stroke="#3355ff" stroke-width="0.7" fill="none"/>
<circle cx="382.95" cy="237.43" r="1.3" fill="#3355ff"/>
<path d="M412.45 209.75V227.12M411.15 209.75H413.75M411.15 227.12H413.75" stroke="#3355ff" stroke-width="0.7" fill="none"/>
<circle cx="412.45" cy="218.43" r="1.3" fill="#3355ff"/>
<path d="M441.95 235.26V255.89M440.65 235.26H443.25M440.65 255.89H443.25" stroke="#3355ff" stroke-width="0.7" fill="none"/>
<circle cx="441.95" cy="245.57" r="1.3" fill="#3355ff"/>
<path d="M471.45 220.97V233.99M470.15 220.97H472.75M470.15 233.99H472.75" stroke="#3355ff" stroke-width="0.7" fill="none"/>
<circle cx="471.45" cy="227.48" r="1.3" fill="#3355ff"/>
<path d="M500.95 275.88V292.16M499.65 275.88H502.25M499.65 292.16H502.25" stroke="#3355ff" stroke-width="0.7" fill="none"/>
<circle cx="500.95" cy="284.02" r="1.3" fill="#3355ff"/>
<path d="M382.95 230.19V241.05M381.65 230.19H384.25M381.65 241.05H384.25" stroke="#22a022" stroke-width="0.7" fill="none"/>
<path d="M382.95 233.41L384.51 236.27L381.39 236.27Z" fill="#22a022"/>
<path d="M412.45 195.55V209.66M411.15 195.55H413.75M411.15 209.66H413.75" stroke="#22a022" stroke-width="0.7" fill="none"/>
<path d="M412.45 200.39L414.01 203.25L410.89 203.25Z" fill="#22a022"/>
<path d="M441.95 241.41V258.78M440.65 241.41H443.25M440.65 258.78H443.25" stroke="#22a022" stroke-width="0.7" fill="none"/>
<path d="M441.95 247.89L443.51 250.75L440.39 250.75Z" fill="#22a022"/>
<path d="M471.45 219.43V240.05M470.15 219.43H472.75M470.15 240.05H472.75" stroke="#22a022" stroke-width="0.7" fill="none"/>
<path d="M471.45 227.53L473.01 230.39L469.89 230.39Z" fill="#22a022"/>
<path d="M500.95 269.82V282.85M499.65 269.82H502.25M499.65 282.85H502.25" stroke="#22a022" stroke-width="0.7" fill="none"/>
<path d="M500.95 274.12L502.51 276.98L499.39 276.98Z" fill="#22a022"/>
<path d="M382.95 238.61V257.06M381.65 238.61H384.25M381.65 257.06H384.25" stroke="#000080" stroke-width="0.7" fill="none"/>
<path d="M382.95 246.14V249.52M381.26 247.83H384.64" stroke="#000080" stroke-width="0.8"/>
<path d="M412.45 228.84V239.69M411.15 228.84H413.75M411.15 239.69H413.75" stroke="#000080" stroke-width="0.7" fill="none"/>
<path d="M412.45 232.57V235.95M410.76 234.26H414.14" stroke="#000080" stroke-width="0.8"/>
<path d="M441.95 247.56V261.68M440.65 247.56H443.25M440.65 261.68H443.25" stroke="#000080" stroke-width="0.7" fill="none"/>
<path d="M441.95 252.93V256.31M440.26 254.62H443.64" stroke="#000080" stroke-width="0.8"/>
<path d="M471.45 241.41V258.78M470.15 241.41H472.75M470.15 258.78H472.75" stroke="#000080" stroke-width="0.7" fill="none"/>
<path d="M471.45 248.41V251.79M469.76 250.1H473.14" stroke="#000080" stroke-width="0.8"/>
<path d="M500.95 279.59V300.22M499.65 279.59H502.25M499.65 300.22H502.25" stroke="#000080" stroke-width="0.7" fill="none"/>
<path d="M500.95 288.21V291.59M499.26 289.9H502.64" stroke="#000080" stroke-width="0.8"/>
<path d="M382.95 244.76V259.96M381.65 244.76H384.25M381.65 259.96H384.25" stroke="#ff3399" stroke-width="0.7" fill="none"/>
<path d="M381.65 251.06L384.25 253.66M381.65 253.66L384.25 251.06" stroke="#ff3399" stroke-width="0.8"/>
<path d="M412.45 218.25V236.71M411.15 218.25H413.75M411.15 236.71H413.75" stroke="#ff3399" stroke-width="0.7" fill="none"/>
<path d="M411.15 226.18L413.75 228.78M411.15 228.78L413.75 226.18" stroke="#ff3399" stroke-width="0.8"/>
<path d="M441.95 252.81V263.67M440.65 252.81H443.25M440.65 263.67H443.25" stroke="#ff3399" stroke-width="0.7" fill="none"/>
<path d="M440.65 256.94L443.25 259.54M440.65 259.54L443.25 256.94" stroke="#ff3399" stroke-width="0.8"/>
<path d="M471.45 243.94V258.06M470.15 243.94H472.75M470.15 258.06H472.75" stroke="#ff3399" stroke-width="0.7" fill="none"/>
<path d="M470.15 249.7L472.75 252.3M470.15 252.3L472.75 249.7" stroke="#ff3399" stroke-width="0.8"/>
<path d="M500.95 273.98V291.35M499.65 273.98H502.25M499.65 291.35H502.25" stroke="#ff3399" stroke-width="0.7" fill="none"/>
<path d="M499.65 281.36L502.25 283.96M499.65 283.96L502.25 281.36" stroke="#ff3399" stroke-width="0.8"/>
<path d="M382.95 234.17V246.12M381.65 234.17H384.25M381.65 246.12H384.25" stroke="#33aaff" stroke-width="0.7" fill="none"/>
<path d="M381.65 238.85L384.25 241.45M381.65 241.45L384.25 238.85" stroke="#33aaff" stroke-width="0.8"/>
<path d="M412.45 199.53V214.72M411.15 199.53H413.75M411.15 214.72H413.75" stroke="#33aaff" stroke-width="0.7" fill="none"/>
<path d="M411.15 205.82L413.75 208.43M411.15 208.43L413.75 205.82" stroke="#33aaff" stroke-width="0.8"/>
<path d="M441.95 232.73V251.18M440.65 232.73H443.25M440.65 251.18H443.25" stroke="#33aaff" stroke-width="0.7" fill="none"/>
<path d="M440.65 240.65L443.25 243.25M440.65 243.25L443.25 240.65" stroke="#33aaff" stroke-width="0.8"/>
<path d="M471.45 228.84V239.69M470.15 228.84H472.75M470.15 239.69H472.75" stroke="#33aaff" stroke-width="0.7" fill="none"/>
<path d="M470.15 232.96L472.75 235.56M470.15 235.56L472.75 232.96" stroke="#33aaff" stroke-width="0.8"/>
<path d="M500.95 271.08V285.2M499.65 271.08H502.25M499.65 285.2H502.25" stroke="#33aaff" stroke-width="0.7" fill="none"/>
<path d="M499.65 276.84L502.25 279.44M499.65 279.44L502.25 276.84" stroke="#33aaff" stroke-width="0.8"/>
<path d="M382.95 236.71V256.25M381.65 236.71H384.25M381.65 256.25H384.25" stroke="#a0602d" stroke-width="0.7" fill="none"/>
<circle cx="382.95" cy="246.48" r="1.3" fill="#a0602d"/>
<path d="M412.45 214.72V226.67M411.15 214.72H413.75M411.15 226.67H413.75" stroke="#a0602d" stroke-width="0.7" fill="none"/>
<circle cx="412.45" cy="220.69" r="1.3" fill="#a0602d"/>
<path d="M441.95 229.83V245.03M440.65 229.83H443.25M440.65 245.03H443.25" stroke="#a0602d" stroke-width="0.7" fill="none"/>
<circle cx="441.95" cy="237.43" r="1.3" fill="#a0602d"/>
<path d="M471.45 238.61V257.06M470.15 238.61H472.75M470.15 257.06H472.75" stroke="#a0602d" stroke-width="0.7" fill="none"/>
<circle cx="471.45" cy="247.83" r="1.3" fill="#a0602d"/>
<path d="M500.95 275.43V286.28M499.65 275.43H502.25M499.65 286.28H502.25" stroke="#a0602d" stroke-width="0.7" fill="none"/>
<circle cx="500.95" cy="280.86" r="1.3" fill="#a0602d"/>
<path d="M382.95 224.77V241.05M381.65 224.77H384.25M381.65 241.05H384.25" stroke="#777777" stroke-width="0.7" fill="none"/>
<path d="M384.51 232.91L381.65 231.35L381.65 234.47Z" fill="#fff" stroke="#777777" stroke-width="0.7"/>
<path d="M412.45 225.85V245.39M411.15 225.85H413.75M411.15 245.39H413.75" stroke="#777777" stroke-width="0.7" fill="none"/>
<path d="M414.01 235.62L411.15 234.06L411.15 237.18Z" fill="#fff" stroke="#777777" stroke-width="0.7"/>
<path d="M441.95 247.74V259.69M440.65 247.74H443.25M440.65 259.69H443.25" stroke="#777777" stroke-width="0.7" fill="none"/>
<path d="M443.51 253.72L440.65 252.16L440.65 255.28Z" fill="#fff" stroke="#777777" stroke-width="0.7"/>
<path d="M471.45 220.79V235.98M470.15 220.79H472.75M470.15 235.98H472.75" stroke="#777777" stroke-width="0.7" fill="none"/>
<path d="M473.01 228.38L470.15 226.82L470.15 229.94Z" fill="#fff" stroke="#777777" stroke-width="0.7"/>
<path d="M500.95 262.58V281.04M499.65 262.58H502.25M499.65 281.04H502.25" stroke="#777777" stroke-width="0.7" fill="none"/>
<path d="M502.51 271.81L499.65 270.25L499.65 273.37Z" fill="#fff" stroke="#777777" stroke-width="0.7"/>
<path d="M376.8 173.2V308.9H506.4" stroke="#333" stroke-width="1" fill="none"/>
<path d="M376.8 308.9H379.8" stroke="#333" stroke-width="1"/>
<text x="373.2" y="311.8" font-size="10" font-weight="bold" text-anchor="end">0</text>
<path d="M376.8 286.28H379.8" stroke="#333" stroke-width="1"/>
<text x="373.2" y="289.18" font-size="10" font-weight="bold" text-anchor="end">5</text>
<path d="M376.8 263.67H379.8" stroke="#333" stroke-width="1"/>
<text x="373.2" y="266.57" font-size="10" font-weight="bold" text-anchor="end">10</text>
<path d="M376.8 241.05H379.8" stroke="#333" stroke-width="1"/>
<text x="373.2" y="243.95" font-size="10" font-weight="bold" text-anchor="end">15</text>
<path d="M376.8 218.43H379.8" stroke="#333" stroke-width="1"/>
<text x="373.2" y="221.33" font-size="10" font-weight="bold" text-anchor="end">20</text>
<path d="M376.8 195.82H379.8" stroke="#333" stroke-width="1"/>
<text x="373.2" y="198.72" font-size="10" font-weight="bold" text-anchor="end">25</text>
<path d="M376.8 173.2H379.8" stroke="#333" stroke-width="1"/>
<text x="373.2" y="176.1" font-size="10" font-weight="bold" text-anchor="end">30</text>
<path d="M382.95 308.9V305.9" stroke="#333" stroke-width="1"/>
<path d="M412.45 308.9V305.9" stroke="#333" stroke-width="1"/>
<path d="M441.95 308.9V305.9" stroke="#333" stroke-width="1"/>
<path d="M471.45 308.9V305.9" stroke="#333" stroke-width="1"/>
<path d="M500.95 308.9V305.9" stroke="#333" stroke-width="1"/>
<text transform="translate(385.95 322.6) rotate(-19)" font-size="9.5" fill="#383838" text-anchor="middle">8:00-10:00</text>
<text transform="translate(415.45 322.6) rotate(-19)" font-size="9.5" fill="#383838" text-anchor="middle">10:00-12:00</text>
<text transform="translate(444.95 322.6) rotate(-19)" font-size="9.5" fill="#383838" text-anchor="middle">12:00-14:00</text>
<text transform="translate(474.45 322.6) rotate(-19)" font-size="9.5" fill="#383838" text-anchor="middle">14:00-16:00</text>
<text transform="translate(503.95 322.6) rotate(-19)" font-size="9.5" fill="#383838" text-anchor="middle">16:00-18:00</text>
<text x="444.7" y="334" font-size="17" font-weight="bold" text-anchor="middle">g</text>
<rect x="221.3" y="0" width="106.7" height="15.9" fill="#c0c0c0"/>
<text x="222.6" y="11.6" font-size="10.2" font-weight="bold" text-anchor="start" textLength="23.46" lengthAdjust="spacingAndGlyphs">W: ns</text>
<text x="258.5" y="11.6" font-size="10.2" font-weight="bold" text-anchor="start" textLength="20.81" lengthAdjust="spacingAndGlyphs">F: <tspan style="stroke:none">*</tspan><tspan style="stroke:none">*</tspan></text>
<text x="291.5" y="11.6" font-size="10.2" font-weight="bold" text-anchor="start" textLength="35.18" lengthAdjust="spacingAndGlyphs">W&#215;F: ns</text>
<rect x="308.2" y="22.7" width="21.8" height="15.5" rx="1.5" fill="#c0c0c0"/>
<text x="319.1" y="33.8" font-size="10.3" font-weight="bold" text-anchor="middle" textLength="18.95" lengthAdjust="spacingAndGlyphs">2021</text>
<rect x="205.4" y="60.1" width="6.5" height="80.2" fill="#fdc895" stroke="#333" stroke-width="0.8"/>
<path d="M208.65 48.3V71.9M207.15 48.3H210.15M207.15 71.9H210.15" stroke="#222" stroke-width="0.9" fill="none"/>
<text x="208.65" y="45.4" font-size="9.2" font-weight="bold" text-anchor="middle" textLength="24.76" lengthAdjust="spacingAndGlyphs">abcdef</text>
<rect x="211.9" y="45.1" width="6.5" height="95.2" fill="#9bd99b" stroke="#333" stroke-width="0.8"/>
<path d="M215.15 29.2V61M213.65 29.2H216.65M213.65 61H216.65" stroke="#222" stroke-width="0.9" fill="none"/>
<text x="215.15" y="26.3" font-size="9.2" font-weight="bold" text-anchor="middle" textLength="9.23" lengthAdjust="spacingAndGlyphs">ab</text>
<rect x="218.4" y="78.4" width="6.5" height="61.9" fill="#c3b3d8" stroke="#333" stroke-width="0.8"/>
<path d="M221.65 65.2V91.6M220.15 65.2H223.15M220.15 91.6H223.15" stroke="#222" stroke-width="0.9" fill="none"/>
<text x="221.65" y="62.3" font-size="9.2" font-weight="bold" text-anchor="middle" textLength="6.79" lengthAdjust="spacingAndGlyphs">ef</text>
<rect x="229.8" y="64" width="6.5" height="76.3" fill="#fdc895" stroke="#333" stroke-width="0.8"/>
<path d="M233.05 50.2V77.8M231.55 50.2H234.55M231.55 77.8H234.55" stroke="#222" stroke-width="0.9" fill="none"/>
<text x="233.05" y="47.3" font-size="9.2" font-weight="bold" text-anchor="middle" textLength="20.39" lengthAdjust="spacingAndGlyphs">bcdef</text>
<rect x="236.3" y="52.5" width="6.5" height="87.8" fill="#9bd99b" stroke="#333" stroke-width="0.8"/>
<path d="M239.55 40V65M238.05 40H241.05M238.05 65H241.05" stroke="#222" stroke-width="0.9" fill="none"/>
<text x="239.55" y="37.1" font-size="9.2" font-weight="bold" text-anchor="middle" textLength="17.97" lengthAdjust="spacingAndGlyphs">abcd</text>
<rect x="242.8" y="52.8" width="6.5" height="87.5" fill="#c3b3d8" stroke="#333" stroke-width="0.8"/>
<path d="M246.05 42.7V62.9M244.55 42.7H247.55M244.55 62.9H247.55" stroke="#222" stroke-width="0.9" fill="none"/>
<text x="246.05" y="39.8" font-size="9.2" font-weight="bold" text-anchor="middle" textLength="21.85" lengthAdjust="spacingAndGlyphs">abcde</text>
<rect x="254.2" y="75.6" width="6.5" height="64.7" fill="#fdc895" stroke="#333" stroke-width="0.8"/>
<path d="M257.45 63V88.2M255.95 63H258.95M255.95 88.2H258.95" stroke="#222" stroke-width="0.9" fill="none"/>
<text x="257.45" y="60.1" font-size="9.2" font-weight="bold" text-anchor="middle" textLength="11.65" lengthAdjust="spacingAndGlyphs">def</text>
<rect x="260.7" y="49.4" width="6.5" height="90.9" fill="#9bd99b" stroke="#333" stroke-width="0.8"/>
<path d="M263.95 37V61.8M262.45 37H265.45M262.45 61.8H265.45" stroke="#222" stroke-width="0.9" fill="none"/>
<text x="263.95" y="34.1" font-size="9.2" font-weight="bold" text-anchor="middle" textLength="13.11" lengthAdjust="spacingAndGlyphs">abc</text>
<rect x="267.2" y="74.1" width="6.5" height="66.2" fill="#c3b3d8" stroke="#333" stroke-width="0.8"/>
<path d="M270.45 63.3V84.9M268.95 63.3H271.95M268.95 84.9H271.95" stroke="#222" stroke-width="0.9" fill="none"/>
<text x="270.45" y="60.4" font-size="9.2" font-weight="bold" text-anchor="middle" textLength="15.53" lengthAdjust="spacingAndGlyphs">cdef</text>
<rect x="278.6" y="58.4" width="6.5" height="81.9" fill="#fdc895" stroke="#333" stroke-width="0.8"/>
<path d="M281.85 44.7V72.1M280.35 44.7H283.35M280.35 72.1H283.35" stroke="#222" stroke-width="0.9" fill="none"/>
<text x="281.85" y="41.8" font-size="9.2" font-weight="bold" text-anchor="middle" textLength="24.76" lengthAdjust="spacingAndGlyphs">abcdef</text>
<rect x="285.1" y="41.3" width="6.5" height="99" fill="#9bd99b" stroke="#333" stroke-width="0.8"/>
<path d="M288.35 26.6V56M286.85 26.6H289.85M286.85 56H289.85" stroke="#222" stroke-width="0.9" fill="none"/>
<text x="288.35" y="23.7" font-size="9.2" font-weight="bold" text-anchor="middle" textLength="4.37" lengthAdjust="spacingAndGlyphs">a</text>
<rect x="291.6" y="78.8" width="6.5" height="61.5" fill="#c3b3d8" stroke="#333" stroke-width="0.8"/>
<path d="M294.85 65.4V92.2M293.35 65.4H296.35M293.35 92.2H296.35" stroke="#222" stroke-width="0.9" fill="none"/>
<text x="294.85" y="62.5" font-size="9.2" font-weight="bold" text-anchor="middle" textLength="2.91" lengthAdjust="spacingAndGlyphs">f</text>
<rect x="303" y="69.1" width="6.5" height="71.2" fill="#fdc895" stroke="#333" stroke-width="0.8"/>
<path d="M306.25 56V82.2M304.75 56H307.75M304.75 82.2H307.75" stroke="#222" stroke-width="0.9" fill="none"/>
<text x="306.25" y="53.1" font-size="9.2" font-weight="bold" text-anchor="middle" textLength="15.53" lengthAdjust="spacingAndGlyphs">cdef</text>
<rect x="309.5" y="64.5" width="6.5" height="75.8" fill="#9bd99b" stroke="#333" stroke-width="0.8"/>
<path d="M312.75 50.5V78.5M311.25 50.5H314.25M311.25 78.5H314.25" stroke="#222" stroke-width="0.9" fill="none"/>
<text x="312.75" y="47.6" font-size="9.2" font-weight="bold" text-anchor="middle" textLength="20.39" lengthAdjust="spacingAndGlyphs">bcdef</text>
<rect x="316" y="71.3" width="6.5" height="69" fill="#c3b3d8" stroke="#333" stroke-width="0.8"/>
<path d="M319.25 58.5V84.1M317.75 58.5H320.75M317.75 84.1H320.75" stroke="#222" stroke-width="0.9" fill="none"/>
<text x="319.25" y="55.6" font-size="9.2" font-weight="bold" text-anchor="middle" textLength="15.53" lengthAdjust="spacingAndGlyphs">cdef</text>
<rect x="326" y="72.6" width="6.5" height="67.7" fill="#ffff99" stroke="#333" stroke-width="0.8"/>
<path d="M329.25 60.3V84.9M327.75 60.3H330.75M327.75 84.9H330.75" stroke="#333" stroke-width="0.8" fill="none"/>
<path d="M203.4 4.9V140.3H333.8" stroke="#333" stroke-width="1" fill="none"/>
<path d="M203.4 140.3H205.9" stroke="#333" stroke-width="1"/>
<text x="199.1" y="143.2" font-size="10" text-anchor="end">0</text>
<path d="M203.4 75.15H205.9" stroke="#333" stroke-width="1"/>
<text x="199.1" y="78.05" font-size="10" text-anchor="end">5</text>
<path d="M203.4 10H205.9" stroke="#333" stroke-width="1"/>
<text x="199.1" y="12.9" font-size="10" text-anchor="end">10</text>
<text x="216.15" y="151" font-size="9.7" font-weight="bold" text-anchor="middle" textLength="13.53" lengthAdjust="spacingAndGlyphs">W0</text>
<text x="240.55" y="151" font-size="9.7" font-weight="bold" text-anchor="middle" textLength="13.53" lengthAdjust="spacingAndGlyphs">W1</text>
<text x="264.95" y="151" font-size="9.7" font-weight="bold" text-anchor="middle" textLength="13.53" lengthAdjust="spacingAndGlyphs">W2</text>
<text x="289.35" y="151" font-size="9.7" font-weight="bold" text-anchor="middle" textLength="13.53" lengthAdjust="spacingAndGlyphs">W3</text>
<text x="313.75" y="151" font-size="9.7" font-weight="bold" text-anchor="middle" textLength="13.53" lengthAdjust="spacingAndGlyphs">W4</text>
<text x="329.5" y="151" font-size="9.7" font-weight="bold" text-anchor="middle" textLength="13.53" lengthAdjust="spacingAndGlyphs">CK</text>
<text x="278.3" y="166" font-size="17" font-weight="bold" text-anchor="middle">b</text>
<rect x="566.9" y="0" width="102" height="15.7" fill="#c0c0c0"/>
<text x="568.2" y="11.4" font-size="10.2" font-weight="bold" text-anchor="start" textLength="19.24" lengthAdjust="spacingAndGlyphs">W: <tspan style="stroke:none">*</tspan></text>
<text x="599.8" y="11.4" font-size="10.2" font-weight="bold" text-anchor="start" textLength="20.29" lengthAdjust="spacingAndGlyphs">F: ns</text>
<text x="632.1" y="11.4" font-size="10.2" font-weight="bold" text-anchor="start" textLength="35.18" lengthAdjust="spacingAndGlyphs">W&#215;F: ns</text>
<rect x="637.6" y="22.4" width="21.9" height="16.2" rx="1.5" fill="#c0c0c0"/>
<text x="648.55" y="34.2" font-size="10.3" font-weight="bold" text-anchor="middle" textLength="18.95" lengthAdjust="spacingAndGlyphs">2022</text>
<rect x="552.6" y="54.5" width="6.65" height="85.8" fill="#fdc895" stroke="#333" stroke-width="0.8"/>
<path d="M555.93 43.3V65.7M554.43 43.3H557.43M554.43 65.7H557.43" stroke="#222" stroke-width="0.9" fill="none"/>
<text x="556.73" y="40.4" font-size="9.2" font-weight="bold" text-anchor="middle" textLength="17.97" lengthAdjust="spacingAndGlyphs">abcd</text>
<rect x="559.25" y="40.1" width="6.65" height="100.2" fill="#9bd99b" stroke="#333" stroke-width="0.8"/>
<path d="M562.58 25.3V54.9M561.08 25.3H564.08M561.08 54.9H564.08" stroke="#222" stroke-width="0.9" fill="none"/>
<text x="563.38" y="22.4" font-size="9.2" font-weight="bold" text-anchor="middle" textLength="4.37" lengthAdjust="spacingAndGlyphs">a</text>
<rect x="565.9" y="47.5" width="6.65" height="92.8" fill="#c3b3d8" stroke="#333" stroke-width="0.8"/>
<path d="M569.23 34.9V60.1M567.73 34.9H570.73M567.73 60.1H570.73" stroke="#222" stroke-width="0.9" fill="none"/>
<text x="570.02" y="32" font-size="9.2" font-weight="bold" text-anchor="middle" textLength="13.11" lengthAdjust="spacingAndGlyphs">abc</text>
<rect x="577" y="49.6" width="6.65" height="90.7" fill="#fdc895" stroke="#333" stroke-width="0.8"/>
<path d="M580.33 35.9V63.3M578.83 35.9H581.83M578.83 63.3H581.83" stroke="#222" stroke-width="0.9" fill="none"/>
<text x="581.12" y="33" font-size="9.2" font-weight="bold" text-anchor="middle" textLength="13.11" lengthAdjust="spacingAndGlyphs">abc</text>
<rect x="583.65" y="40.1" width="6.65" height="100.2" fill="#9bd99b" stroke="#333" stroke-width="0.8"/>
<path d="M586.98 25.3V54.9M585.48 25.3H588.48M585.48 54.9H588.48" stroke="#222" stroke-width="0.9" fill="none"/>
<text x="587.77" y="22.4" font-size="9.2" font-weight="bold" text-anchor="middle" textLength="9.23" lengthAdjust="spacingAndGlyphs">ab</text>
<rect x="590.3" y="43.6" width="6.65" height="96.7" fill="#c3b3d8" stroke="#333" stroke-width="0.8"/>
<path d="M593.62 33.6V53.6M592.12 33.6H595.12M592.12 53.6H595.12" stroke="#222" stroke-width="0.9" fill="none"/>
<text x="594.42" y="30.7" font-size="9.2" font-weight="bold" text-anchor="middle" textLength="13.11" lengthAdjust="spacingAndGlyphs">abc</text>
<rect x="601.4" y="66.7" width="6.65" height="73.6" fill="#fdc895" stroke="#333" stroke-width="0.8"/>
<path d="M604.73 54.3V79.1M603.23 54.3H606.23M603.23 79.1H606.23" stroke="#222" stroke-width="0.9" fill="none"/>
<text x="605.52" y="51.4" font-size="9.2" font-weight="bold" text-anchor="middle" textLength="15.53" lengthAdjust="spacingAndGlyphs">cdef</text>
<rect x="608.05" y="58.2" width="6.65" height="82.1" fill="#9bd99b" stroke="#333" stroke-width="0.8"/>
<path d="M611.38 44.8V71.6M609.88 44.8H612.88M609.88 71.6H612.88" stroke="#222" stroke-width="0.9" fill="none"/>
<text x="612.17" y="41.9" font-size="9.2" font-weight="bold" text-anchor="middle" textLength="21.85" lengthAdjust="spacingAndGlyphs">abcde</text>
<rect x="614.7" y="64.2" width="6.65" height="76.1" fill="#c3b3d8" stroke="#333" stroke-width="0.8"/>
<path d="M618.02 52.3V76.1M616.52 52.3H619.52M616.52 76.1H619.52" stroke="#222" stroke-width="0.9" fill="none"/>
<text x="618.82" y="49.4" font-size="9.2" font-weight="bold" text-anchor="middle" textLength="20.39" lengthAdjust="spacingAndGlyphs">bcdef</text>
<rect x="625.8" y="80.2" width="6.65" height="60.1" fill="#fdc895" stroke="#333" stroke-width="0.8"/>
<path d="M629.12 66.1V94.3M627.62 66.1H630.62M627.62 94.3H630.62" stroke="#222" stroke-width="0.9" fill="none"/>
<text x="629.92" y="63.2" font-size="9.2" font-weight="bold" text-anchor="middle" textLength="6.79" lengthAdjust="spacingAndGlyphs">ef</text>
<rect x="632.45" y="66.3" width="6.65" height="74" fill="#9bd99b" stroke="#333" stroke-width="0.8"/>
<path d="M635.77 54V78.6M634.27 54H637.27M634.27 78.6H637.27" stroke="#222" stroke-width="0.9" fill="none"/>
<text x="636.57" y="51.1" font-size="9.2" font-weight="bold" text-anchor="middle" textLength="15.53" lengthAdjust="spacingAndGlyphs">cdef</text>
<rect x="639.1" y="75.7" width="6.65" height="64.6" fill="#c3b3d8" stroke="#333" stroke-width="0.8"/>
<path d="M642.42 61.2V90.2M640.92 61.2H643.92M640.92 90.2H643.92" stroke="#222" stroke-width="0.9" fill="none"/>
<text x="643.22" y="58.3" font-size="9.2" font-weight="bold" text-anchor="middle" textLength="11.65" lengthAdjust="spacingAndGlyphs">def</text>
<rect x="650.2" y="85.9" width="6.65" height="54.4" fill="#fdc895" stroke="#333" stroke-width="0.8"/>
<path d="M653.53 73.5V98.3M652.03 73.5H655.03M652.03 98.3H655.03" stroke="#222" stroke-width="0.9" fill="none"/>
<text x="654.33" y="70.6" font-size="9.2" font-weight="bold" text-anchor="middle" textLength="2.91" lengthAdjust="spacingAndGlyphs">f</text>
<rect x="656.85" y="80.3" width="6.65" height="60" fill="#9bd99b" stroke="#333" stroke-width="0.8"/>
<path d="M660.18 67.4V93.2M658.68 67.4H661.68M658.68 93.2H661.68" stroke="#222" stroke-width="0.9" fill="none"/>
<text x="660.98" y="64.5" font-size="9.2" font-weight="bold" text-anchor="middle" textLength="6.79" lengthAdjust="spacingAndGlyphs">ef</text>
<rect x="663.5" y="81.6" width="6.65" height="58.7" fill="#c3b3d8" stroke="#333" stroke-width="0.8"/>
<path d="M666.83 68.9V94.3M665.33 68.9H668.33M665.33 94.3H668.33" stroke="#222" stroke-width="0.9" fill="none"/>
<text x="667.62" y="66" font-size="9.2" font-weight="bold" text-anchor="middle" textLength="6.79" lengthAdjust="spacingAndGlyphs">ef</text>
<rect x="673.2" y="61.7" width="6.65" height="78.6" fill="#ffff99" stroke="#333" stroke-width="0.8"/>
<path d="M676.53 48.4V75M675.03 48.4H678.03M675.03 75H678.03" stroke="#333" stroke-width="0.8" fill="none"/>
<path d="M551.7 4.9V140.3H682.1" stroke="#333" stroke-width="1" fill="none"/>
<path d="M551.7 140.3H554.2" stroke="#333" stroke-width="1"/>
<text x="547.4" y="143.2" font-size="10" text-anchor="end">0</text>
<path d="M551.7 75.15H554.2" stroke="#333" stroke-width="1"/>
<text x="547.4" y="78.05" font-size="10" text-anchor="end">5</text>
<path d="M551.7 10H554.2" stroke="#333" stroke-width="1"/>
<text x="547.4" y="12.9" font-size="10" text-anchor="end">10</text>
<text x="563.35" y="151" font-size="9.7" font-weight="bold" text-anchor="middle" textLength="13.53" lengthAdjust="spacingAndGlyphs">W0</text>
<text x="587.75" y="151" font-size="9.7" font-weight="bold" text-anchor="middle" textLength="13.53" lengthAdjust="spacingAndGlyphs">W1</text>
<text x="612.15" y="151" font-size="9.7" font-weight="bold" text-anchor="middle" textLength="13.53" lengthAdjust="spacingAndGlyphs">W2</text>
<text x="636.55" y="151" font-size="9.7" font-weight="bold" text-anchor="middle" textLength="13.53" lengthAdjust="spacingAndGlyphs">W3</text>
<text x="660.95" y="151" font-size="9.7" font-weight="bold" text-anchor="middle" textLength="13.53" lengthAdjust="spacingAndGlyphs">W4</text>
<text x="676.7" y="151" font-size="9.7" font-weight="bold" text-anchor="middle" textLength="13.53" lengthAdjust="spacingAndGlyphs">CK</text>
<text x="627" y="165.7" font-size="17" font-weight="bold" text-anchor="middle">d</text>
<rect x="211.7" y="171.1" width="102.8" height="15.8" fill="#c0c0c0"/>
<text x="213.4" y="182.6" font-size="10.2" font-weight="bold" text-anchor="start" textLength="19.24" lengthAdjust="spacingAndGlyphs">W: <tspan style="stroke:none">*</tspan></text>
<text x="244.9" y="182.6" font-size="10.2" font-weight="bold" text-anchor="start" textLength="20.81" lengthAdjust="spacingAndGlyphs">F: <tspan style="stroke:none">*</tspan><tspan style="stroke:none">*</tspan></text>
<text x="278.2" y="182.6" font-size="10.2" font-weight="bold" text-anchor="start" textLength="35.18" lengthAdjust="spacingAndGlyphs">W&#215;F: ns</text>
<rect x="320.2" y="187.4" width="21.6" height="15.7" rx="1.5" fill="#c0c0c0"/>
<text x="331" y="198.7" font-size="10.3" font-weight="bold" text-anchor="middle" textLength="18.95" lengthAdjust="spacingAndGlyphs">2021</text>
<rect x="205.3" y="233.3" width="6.5" height="75.4" fill="#fdc895" stroke="#333" stroke-width="0.8"/>
<path d="M208.55 227.2V239.4M207.05 227.2H210.05M207.05 239.4H210.05" stroke="#222" stroke-width="0.9" fill="none"/>
<text x="208.55" y="224.3" font-size="9.2" font-weight="bold" text-anchor="middle" textLength="3.88" lengthAdjust="spacingAndGlyphs">c</text>
<rect x="211.8" y="211.8" width="6.5" height="96.9" fill="#9bd99b" stroke="#333" stroke-width="0.8"/>
<path d="M215.05 203.8V219.8M213.55 203.8H216.55M213.55 219.8H216.55" stroke="#222" stroke-width="0.9" fill="none"/>
<text x="215.05" y="200.9" font-size="9.2" font-weight="bold" text-anchor="middle" textLength="9.23" lengthAdjust="spacingAndGlyphs">ab</text>
<rect x="218.3" y="221.3" width="6.5" height="87.4" fill="#c3b3d8" stroke="#333" stroke-width="0.8"/>
<path d="M221.55 213.6V229M220.05 213.6H223.05M220.05 229H223.05" stroke="#222" stroke-width="0.9" fill="none"/>
<text x="221.55" y="210.7" font-size="9.2" font-weight="bold" text-anchor="middle" textLength="8.74" lengthAdjust="spacingAndGlyphs">bc</text>
<rect x="229.7" y="230.4" width="6.5" height="78.3" fill="#fdc895" stroke="#333" stroke-width="0.8"/>
<path d="M232.95 224.8V236M231.45 224.8H234.45M231.45 236H234.45" stroke="#222" stroke-width="0.9" fill="none"/>
<text x="232.95" y="221.9" font-size="9.2" font-weight="bold" text-anchor="middle" textLength="3.88" lengthAdjust="spacingAndGlyphs">c</text>
<rect x="236.2" y="205.1" width="6.5" height="103.6" fill="#9bd99b" stroke="#333" stroke-width="0.8"/>
<path d="M239.45 197.2V213M237.95 197.2H240.95M237.95 213H240.95" stroke="#222" stroke-width="0.9" fill="none"/>
<text x="239.45" y="194.3" font-size="9.2" font-weight="bold" text-anchor="middle" textLength="4.37" lengthAdjust="spacingAndGlyphs">a</text>
<rect x="242.7" y="214.4" width="6.5" height="94.3" fill="#c3b3d8" stroke="#333" stroke-width="0.8"/>
<path d="M245.95 208.2V220.6M244.45 208.2H247.45M244.45 220.6H247.45" stroke="#222" stroke-width="0.9" fill="none"/>
<text x="245.95" y="205.3" font-size="9.2" font-weight="bold" text-anchor="middle" textLength="9.23" lengthAdjust="spacingAndGlyphs">ab</text>
<rect x="254.1" y="230" width="6.5" height="78.7" fill="#fdc895" stroke="#333" stroke-width="0.8"/>
<path d="M257.35 223.5V236.5M255.85 223.5H258.85M255.85 236.5H258.85" stroke="#222" stroke-width="0.9" fill="none"/>
<text x="257.35" y="220.6" font-size="9.2" font-weight="bold" text-anchor="middle" textLength="3.88" lengthAdjust="spacingAndGlyphs">c</text>
<rect x="260.6" y="203.8" width="6.5" height="104.9" fill="#9bd99b" stroke="#333" stroke-width="0.8"/>
<path d="M263.85 198.8V208.8M262.35 198.8H265.35M262.35 208.8H265.35" stroke="#222" stroke-width="0.9" fill="none"/>
<text x="263.85" y="195.9" font-size="9.2" font-weight="bold" text-anchor="middle" textLength="4.37" lengthAdjust="spacingAndGlyphs">a</text>
<rect x="267.1" y="213.3" width="6.5" height="95.4" fill="#c3b3d8" stroke="#333" stroke-width="0.8"/>
<path d="M270.35 209V217.6M268.85 209H271.85M268.85 217.6H271.85" stroke="#222" stroke-width="0.9" fill="none"/>
<text x="270.35" y="206.1" font-size="9.2" font-weight="bold" text-anchor="middle" textLength="9.23" lengthAdjust="spacingAndGlyphs">ab</text>
<rect x="278.5" y="232.9" width="6.5" height="75.8" fill="#fdc895" stroke="#333" stroke-width="0.8"/>
<path d="M281.75 227V238.8M280.25 227H283.25M280.25 238.8H283.25" stroke="#222" stroke-width="0.9" fill="none"/>
<text x="281.75" y="224.1" font-size="9.2" font-weight="bold" text-anchor="middle" textLength="3.88" lengthAdjust="spacingAndGlyphs">c</text>
<rect x="285" y="211" width="6.5" height="97.7" fill="#9bd99b" stroke="#333" stroke-width="0.8"/>
<path d="M288.25 205V217M286.75 205H289.75M286.75 217H289.75" stroke="#222" stroke-width="0.9" fill="none"/>
<text x="288.25" y="202.1" font-size="9.2" font-weight="bold" text-anchor="middle" textLength="9.23" lengthAdjust="spacingAndGlyphs">ab</text>
<rect x="291.5" y="231.2" width="6.5" height="77.5" fill="#c3b3d8" stroke="#333" stroke-width="0.8"/>
<path d="M294.75 226.5V235.9M293.25 226.5H296.25M293.25 235.9H296.25" stroke="#222" stroke-width="0.9" fill="none"/>
<text x="294.75" y="223.6" font-size="9.2" font-weight="bold" text-anchor="middle" textLength="3.88" lengthAdjust="spacingAndGlyphs">c</text>
<rect x="302.9" y="233.6" width="6.5" height="75.1" fill="#fdc895" stroke="#333" stroke-width="0.8"/>
<path d="M306.15 228.3V238.9M304.65 228.3H307.65M304.65 238.9H307.65" stroke="#222" stroke-width="0.9" fill="none"/>
<text x="306.15" y="225.4" font-size="9.2" font-weight="bold" text-anchor="middle" textLength="3.88" lengthAdjust="spacingAndGlyphs">c</text>
<rect x="309.4" y="204.3" width="6.5" height="104.4" fill="#9bd99b" stroke="#333" stroke-width="0.8"/>
<path d="M312.65 198.5V210.1M311.15 198.5H314.15M311.15 210.1H314.15" stroke="#222" stroke-width="0.9" fill="none"/>
<text x="312.65" y="195.6" font-size="9.2" font-weight="bold" text-anchor="middle" textLength="4.37" lengthAdjust="spacingAndGlyphs">a</text>
<rect x="315.9" y="233.6" width="6.5" height="75.1" fill="#c3b3d8" stroke="#333" stroke-width="0.8"/>
<path d="M319.15 228.3V238.9M317.65 228.3H320.65M317.65 238.9H320.65" stroke="#222" stroke-width="0.9" fill="none"/>
<text x="319.15" y="225.4" font-size="9.2" font-weight="bold" text-anchor="middle" textLength="3.88" lengthAdjust="spacingAndGlyphs">c</text>
<rect x="325.9" y="218.1" width="6.5" height="90.6" fill="#ffff99" stroke="#333" stroke-width="0.8"/>
<path d="M329.15 212.1V224.1M327.65 212.1H330.65M327.65 224.1H330.65" stroke="#333" stroke-width="0.8" fill="none"/>
<path d="M203.6 173.4V308.7H334" stroke="#333" stroke-width="1" fill="none"/>
<path d="M203.6 308.7H206.1" stroke="#333" stroke-width="1"/>
<text x="199.3" y="311.6" font-size="10" text-anchor="end">0</text>
<path d="M203.6 289.38H206.1" stroke="#333" stroke-width="1"/>
<text x="199.3" y="292.27" font-size="10" text-anchor="end">5</text>
<path d="M203.6 270.05H206.1" stroke="#333" stroke-width="1"/>
<text x="199.3" y="272.95" font-size="10" text-anchor="end">10</text>
<path d="M203.6 250.72H206.1" stroke="#333" stroke-width="1"/>
<text x="199.3" y="253.62" font-size="10" text-anchor="end">15</text>
<path d="M203.6 231.4H206.1" stroke="#333" stroke-width="1"/>
<text x="199.3" y="234.3" font-size="10" text-anchor="end">20</text>
<path d="M203.6 212.07H206.1" stroke="#333" stroke-width="1"/>
<text x="199.3" y="214.97" font-size="10" text-anchor="end">25</text>
<path d="M203.6 192.75H206.1" stroke="#333" stroke-width="1"/>
<text x="199.3" y="195.65" font-size="10" text-anchor="end">30</text>
<path d="M203.6 173.42H206.1" stroke="#333" stroke-width="1"/>
<text x="199.3" y="176.32" font-size="10" text-anchor="end">35</text>
<text x="216.05" y="319.4" font-size="9.7" font-weight="bold" text-anchor="middle" textLength="13.53" lengthAdjust="spacingAndGlyphs">W0</text>
<text x="240.45" y="319.4" font-size="9.7" font-weight="bold" text-anchor="middle" textLength="13.53" lengthAdjust="spacingAndGlyphs">W1</text>
<text x="264.85" y="319.4" font-size="9.7" font-weight="bold" text-anchor="middle" textLength="13.53" lengthAdjust="spacingAndGlyphs">W2</text>
<text x="289.25" y="319.4" font-size="9.7" font-weight="bold" text-anchor="middle" textLength="13.53" lengthAdjust="spacingAndGlyphs">W3</text>
<text x="313.65" y="319.4" font-size="9.7" font-weight="bold" text-anchor="middle" textLength="13.53" lengthAdjust="spacingAndGlyphs">W4</text>
<text x="329.4" y="319.4" font-size="9.7" font-weight="bold" text-anchor="middle" textLength="13.53" lengthAdjust="spacingAndGlyphs">CK</text>
<text x="277.3" y="333.6" font-size="17" font-weight="bold" text-anchor="middle">f</text>
<rect x="561.6" y="171.1" width="106.9" height="15.8" fill="#c0c0c0"/>
<text x="563.4" y="182.6" font-size="10.2" font-weight="bold" text-anchor="start" textLength="23.46" lengthAdjust="spacingAndGlyphs">W: ns</text>
<text x="598.8" y="182.6" font-size="10.2" font-weight="bold" text-anchor="start" textLength="20.81" lengthAdjust="spacingAndGlyphs">F: <tspan style="stroke:none">*</tspan><tspan style="stroke:none">*</tspan></text>
<text x="632.1" y="182.6" font-size="10.2" font-weight="bold" text-anchor="start" textLength="35.18" lengthAdjust="spacingAndGlyphs">W&#215;F: ns</text>
<rect x="639.1" y="186.9" width="22.4" height="15.2" rx="1.5" fill="#c0c0c0"/>
<text x="650.3" y="197.7" font-size="10.3" font-weight="bold" text-anchor="middle" textLength="18.95" lengthAdjust="spacingAndGlyphs">2022</text>
<rect x="553.3" y="234.3" width="6.65" height="74.4" fill="#fdc895" stroke="#333" stroke-width="0.8"/>
<path d="M556.62 227.6V241M555.12 227.6H558.12M555.12 241H558.12" stroke="#222" stroke-width="0.9" fill="none"/>
<text x="557.42" y="224.7" font-size="9.2" font-weight="bold" text-anchor="middle" textLength="8.74" lengthAdjust="spacingAndGlyphs">cd</text>
<rect x="559.95" y="209.8" width="6.65" height="98.9" fill="#9bd99b" stroke="#333" stroke-width="0.8"/>
<path d="M563.27 204V215.6M561.77 204H564.77M561.77 215.6H564.77" stroke="#222" stroke-width="0.9" fill="none"/>
<text x="564.07" y="201.1" font-size="9.2" font-weight="bold" text-anchor="middle" textLength="4.37" lengthAdjust="spacingAndGlyphs">a</text>
<rect x="566.6" y="212.7" width="6.65" height="96" fill="#c3b3d8" stroke="#333" stroke-width="0.8"/>
<path d="M569.92 210.2V215.2M568.42 210.2H571.42M568.42 215.2H571.42" stroke="#222" stroke-width="0.9" fill="none"/>
<text x="570.72" y="207.3" font-size="9.2" font-weight="bold" text-anchor="middle" textLength="4.37" lengthAdjust="spacingAndGlyphs">a</text>
<rect x="577.7" y="238.6" width="6.65" height="70.1" fill="#fdc895" stroke="#333" stroke-width="0.8"/>
<path d="M581.02 232.7V244.5M579.52 232.7H582.52M579.52 244.5H582.52" stroke="#222" stroke-width="0.9" fill="none"/>
<text x="581.82" y="229.8" font-size="9.2" font-weight="bold" text-anchor="middle" textLength="8.74" lengthAdjust="spacingAndGlyphs">cd</text>
<rect x="584.35" y="211.2" width="6.65" height="97.5" fill="#9bd99b" stroke="#333" stroke-width="0.8"/>
<path d="M587.67 205.4V217M586.17 205.4H589.17M586.17 217H589.17" stroke="#222" stroke-width="0.9" fill="none"/>
<text x="588.47" y="202.5" font-size="9.2" font-weight="bold" text-anchor="middle" textLength="4.37" lengthAdjust="spacingAndGlyphs">a</text>
<rect x="591" y="214.1" width="6.65" height="94.6" fill="#c3b3d8" stroke="#333" stroke-width="0.8"/>
<path d="M594.32 207.3V220.9M592.82 207.3H595.82M592.82 220.9H595.82" stroke="#222" stroke-width="0.9" fill="none"/>
<text x="595.12" y="204.4" font-size="9.2" font-weight="bold" text-anchor="middle" textLength="4.37" lengthAdjust="spacingAndGlyphs">a</text>
<rect x="602.1" y="236.2" width="6.65" height="72.5" fill="#fdc895" stroke="#333" stroke-width="0.8"/>
<path d="M605.42 229.6V242.8M603.92 229.6H606.92M603.92 242.8H606.92" stroke="#222" stroke-width="0.9" fill="none"/>
<text x="606.22" y="226.7" font-size="9.2" font-weight="bold" text-anchor="middle" textLength="8.74" lengthAdjust="spacingAndGlyphs">cd</text>
<rect x="608.75" y="210.5" width="6.65" height="98.2" fill="#9bd99b" stroke="#333" stroke-width="0.8"/>
<path d="M612.07 204.4V216.6M610.57 204.4H613.57M610.57 216.6H613.57" stroke="#222" stroke-width="0.9" fill="none"/>
<text x="612.87" y="201.5" font-size="9.2" font-weight="bold" text-anchor="middle" textLength="4.37" lengthAdjust="spacingAndGlyphs">a</text>
<rect x="615.4" y="230.2" width="6.65" height="78.5" fill="#c3b3d8" stroke="#333" stroke-width="0.8"/>
<path d="M618.72 224.2V236.2M617.22 224.2H620.22M617.22 236.2H620.22" stroke="#222" stroke-width="0.9" fill="none"/>
<text x="619.52" y="221.3" font-size="9.2" font-weight="bold" text-anchor="middle" textLength="8.74" lengthAdjust="spacingAndGlyphs">bc</text>
<rect x="626.5" y="244.6" width="6.65" height="64.1" fill="#fdc895" stroke="#333" stroke-width="0.8"/>
<path d="M629.83 238.4V250.8M628.33 238.4H631.33M628.33 250.8H631.33" stroke="#222" stroke-width="0.9" fill="none"/>
<text x="630.62" y="235.5" font-size="9.2" font-weight="bold" text-anchor="middle" textLength="4.86" lengthAdjust="spacingAndGlyphs">d</text>
<rect x="633.15" y="214.8" width="6.65" height="93.9" fill="#9bd99b" stroke="#333" stroke-width="0.8"/>
<path d="M636.48 208.1V221.5M634.98 208.1H637.98M634.98 221.5H637.98" stroke="#222" stroke-width="0.9" fill="none"/>
<text x="637.27" y="205.2" font-size="9.2" font-weight="bold" text-anchor="middle" textLength="4.37" lengthAdjust="spacingAndGlyphs">a</text>
<rect x="639.8" y="221.9" width="6.65" height="86.8" fill="#c3b3d8" stroke="#333" stroke-width="0.8"/>
<path d="M643.12 216V227.8M641.62 216H644.62M641.62 227.8H644.62" stroke="#222" stroke-width="0.9" fill="none"/>
<text x="643.92" y="213.1" font-size="9.2" font-weight="bold" text-anchor="middle" textLength="9.23" lengthAdjust="spacingAndGlyphs">ab</text>
<rect x="650.9" y="244.6" width="6.65" height="64.1" fill="#fdc895" stroke="#333" stroke-width="0.8"/>
<path d="M654.23 238.4V250.8M652.73 238.4H655.73M652.73 250.8H655.73" stroke="#222" stroke-width="0.9" fill="none"/>
<text x="655.02" y="235.5" font-size="9.2" font-weight="bold" text-anchor="middle" textLength="4.86" lengthAdjust="spacingAndGlyphs">d</text>
<rect x="657.55" y="216" width="6.65" height="92.7" fill="#9bd99b" stroke="#333" stroke-width="0.8"/>
<path d="M660.88 209.8V222.2M659.38 209.8H662.38M659.38 222.2H662.38" stroke="#222" stroke-width="0.9" fill="none"/>
<text x="661.67" y="206.9" font-size="9.2" font-weight="bold" text-anchor="middle" textLength="4.37" lengthAdjust="spacingAndGlyphs">a</text>
<rect x="664.2" y="218.5" width="6.65" height="90.2" fill="#c3b3d8" stroke="#333" stroke-width="0.8"/>
<path d="M667.52 211V226M666.02 211H669.02M666.02 226H669.02" stroke="#222" stroke-width="0.9" fill="none"/>
<text x="668.32" y="208.1" font-size="9.2" font-weight="bold" text-anchor="middle" textLength="9.23" lengthAdjust="spacingAndGlyphs">ab</text>
<rect x="673.9" y="245.8" width="6.65" height="62.9" fill="#ffff99" stroke="#333" stroke-width="0.8"/>
<path d="M677.23 241.7V249.9M675.73 241.7H678.73M675.73 249.9H678.73" stroke="#333" stroke-width="0.8" fill="none"/>
<path d="M551.5 173.4V308.7H681.9" stroke="#333" stroke-width="1" fill="none"/>
<path d="M551.5 308.7H554" stroke="#333" stroke-width="1"/>
<text x="547.2" y="311.6" font-size="10" text-anchor="end">0</text>
<path d="M551.5 269.7H554" stroke="#333" stroke-width="1"/>
<text x="547.2" y="272.6" font-size="10" text-anchor="end">10</text>
<path d="M551.5 230.7H554" stroke="#333" stroke-width="1"/>
<text x="547.2" y="233.6" font-size="10" text-anchor="end">20</text>
<path d="M551.5 191.7H554" stroke="#333" stroke-width="1"/>
<text x="547.2" y="194.6" font-size="10" text-anchor="end">30</text>
<text x="564.05" y="319.4" font-size="9.7" font-weight="bold" text-anchor="middle" textLength="13.53" lengthAdjust="spacingAndGlyphs">W0</text>
<text x="588.45" y="319.4" font-size="9.7" font-weight="bold" text-anchor="middle" textLength="13.53" lengthAdjust="spacingAndGlyphs">W1</text>
<text x="612.85" y="319.4" font-size="9.7" font-weight="bold" text-anchor="middle" textLength="13.53" lengthAdjust="spacingAndGlyphs">W2</text>
<text x="637.25" y="319.4" font-size="9.7" font-weight="bold" text-anchor="middle" textLength="13.53" lengthAdjust="spacingAndGlyphs">W3</text>
<text x="661.65" y="319.4" font-size="9.7" font-weight="bold" text-anchor="middle" textLength="13.53" lengthAdjust="spacingAndGlyphs">W4</text>
<text x="677.4" y="319.4" font-size="9.7" font-weight="bold" text-anchor="middle" textLength="13.53" lengthAdjust="spacingAndGlyphs">CK</text>
<text x="626.8" y="335.0" font-size="17" font-weight="bold" text-anchor="middle">h</text>
<text transform="translate(16.8 112.4) rotate(-90)" font-size="14.0" font-weight="bold" textLength="79.4" lengthAdjust="spacingAndGlyphs" style="stroke-width:0.1px">E (mmol m<tspan dy="-5" font-size="9">-2</tspan><tspan dy="5"> s</tspan><tspan dy="-5" font-size="9">-1</tspan><tspan dy="5">)</tspan></text>
<text transform="translate(190.2 112.4) rotate(-90)" font-size="14.0" font-weight="bold" textLength="79.3" lengthAdjust="spacingAndGlyphs" style="stroke-width:0.1px">E (mmol m<tspan dy="-5" font-size="9">-2</tspan><tspan dy="5"> s</tspan><tspan dy="-5" font-size="9">-1</tspan><tspan dy="5">)</tspan></text>
<text transform="translate(365.1 112.3) rotate(-90)" font-size="14.0" font-weight="bold" textLength="80.2" lengthAdjust="spacingAndGlyphs" style="stroke-width:0.1px">E (mmol m<tspan dy="-5" font-size="9">-2</tspan><tspan dy="5"> s</tspan><tspan dy="-5" font-size="9">-1</tspan><tspan dy="5">)</tspan></text>
<text transform="translate(538.2 112.4) rotate(-90)" font-size="14.0" font-weight="bold" textLength="80.3" lengthAdjust="spacingAndGlyphs" style="stroke-width:0.1px">E (mmol m<tspan dy="-5" font-size="9">-2</tspan><tspan dy="5"> s</tspan><tspan dy="-5" font-size="9">-1</tspan><tspan dy="5">)</tspan></text>
<text transform="translate(12.8 279.1) rotate(-90)" font-size="14.0" font-weight="bold" textLength="75.9" lengthAdjust="spacingAndGlyphs" style="stroke-width:0.1px">A (&#956;mol m<tspan dy="-5" font-size="9">-2</tspan><tspan dy="5"> s</tspan><tspan dy="-5" font-size="9">-1</tspan><tspan dy="5">)</tspan></text>
<text transform="translate(186.5 279.1) rotate(-90)" font-size="14.0" font-weight="bold" textLength="76.2" lengthAdjust="spacingAndGlyphs" style="stroke-width:0.1px">A (&#956;mol m<tspan dy="-5" font-size="9">-2</tspan><tspan dy="5"> s</tspan><tspan dy="-5" font-size="9">-1</tspan><tspan dy="5">)</tspan></text>
<text transform="translate(360.1 279.1) rotate(-90)" font-size="14.0" font-weight="bold" textLength="76.6" lengthAdjust="spacingAndGlyphs" style="stroke-width:0.1px">A (&#956;mol m<tspan dy="-5" font-size="9">-2</tspan><tspan dy="5"> s</tspan><tspan dy="-5" font-size="9">-1</tspan><tspan dy="5">)</tspan></text>
<text transform="translate(534.3 279.1) rotate(-90)" font-size="14.0" font-weight="bold" textLength="76.2" lengthAdjust="spacingAndGlyphs" style="stroke-width:0.1px">A (&#956;mol m<tspan dy="-5" font-size="9">-2</tspan><tspan dy="5"> s</tspan><tspan dy="-5" font-size="9">-1</tspan><tspan dy="5">)</tspan></text>
<path d="M24.8 341.6H46.5" stroke="#000000" stroke-width="1"/>
<circle cx="35.4" cy="341.6" r="1.55" fill="#000000"/>
<text x="48.6" y="344.7" font-size="9.6" font-weight="bold" textLength="25.9" lengthAdjust="spacingAndGlyphs">W0FH</text>
<path d="M74.3 341.6H96" stroke="#ff0000" stroke-width="1"/>
<circle cx="84.9" cy="341.6" r="1.55" fill="#ff0000"/>
<text x="98.1" y="344.7" font-size="9.6" font-weight="bold" textLength="28.2" lengthAdjust="spacingAndGlyphs">W0FM</text>
<path d="M126.3 341.6H148" stroke="#0000ff" stroke-width="1"/>
<path d="M136.9 338.97L138.76 342.38L135.04 342.38Z" fill="#0000ff"/>
<text x="150.1" y="344.7" font-size="9.6" font-weight="bold" textLength="24.0" lengthAdjust="spacingAndGlyphs">W0FL</text>
<path d="M177.4 341.6H199.1" stroke="#ff00ff" stroke-width="1"/>
<rect x="186.45" y="340.05" width="3.1" height="3.1" fill="#ff00ff"/>
<text x="201.2" y="344.7" font-size="9.6" font-weight="bold" textLength="25.9" lengthAdjust="spacingAndGlyphs">W1FH</text>
<path d="M227.5 341.6H249.2" stroke="#808000" stroke-width="1"/>
<path d="M238.1 339.59L240.11 341.6L238.1 343.62L236.09 341.6Z" fill="#808000"/>
<text x="251.3" y="344.7" font-size="9.6" font-weight="bold" textLength="28.2" lengthAdjust="spacingAndGlyphs">W1FM</text>
<path d="M279.3 341.6H301" stroke="#ff8000" stroke-width="1"/>
<path d="M288.04 341.6L291.45 339.74L291.45 343.46Z" fill="#ff8000"/>
<text x="303.1" y="344.7" font-size="9.6" font-weight="bold" textLength="24.0" lengthAdjust="spacingAndGlyphs">W1FL</text>
<path d="M331 341.6H352.7" stroke="#8000ff" stroke-width="1"/>
<path d="M343.46 341.6L340.05 339.74L340.05 343.46Z" fill="#8000ff"/>
<text x="354.8" y="344.7" font-size="9.6" font-weight="bold" textLength="25.9" lengthAdjust="spacingAndGlyphs">W2FH</text>
<path d="M380.8 341.6H402.5" stroke="#990000" stroke-width="1"/>
<circle cx="391.4" cy="341.6" r="1.55" fill="#990000"/>
<text x="404.6" y="344.7" font-size="9.6" font-weight="bold" textLength="28.2" lengthAdjust="spacingAndGlyphs">W2FM</text>
<path d="M24.8 353.4H46.5" stroke="#008080" stroke-width="1"/>
<path d="M35.4 350.76L37.26 354.17L33.54 354.17Z" fill="#008080"/>
<text x="48.6" y="356.5" font-size="9.6" font-weight="bold" textLength="24.0" lengthAdjust="spacingAndGlyphs">W2FL</text>
<path d="M74.3 353.4H96" stroke="#3355ff" stroke-width="1"/>
<circle cx="84.9" cy="353.4" r="1.55" fill="#3355ff"/>
<text x="98.1" y="356.5" font-size="9.6" font-weight="bold" textLength="25.9" lengthAdjust="spacingAndGlyphs">W3FH</text>
<path d="M126.3 353.4H148" stroke="#22a022" stroke-width="1"/>
<path d="M136.9 350.76L138.76 354.17L135.04 354.17Z" fill="#22a022"/>
<text x="150.1" y="356.5" font-size="9.6" font-weight="bold" textLength="28.2" lengthAdjust="spacingAndGlyphs">W3FM</text>
<path d="M177.4 353.4H199.1" stroke="#000080" stroke-width="1"/>
<path d="M188 351.38V355.41M185.99 353.4H190.01" stroke="#000080" stroke-width="0.8"/>
<text x="201.2" y="356.5" font-size="9.6" font-weight="bold" textLength="24.0" lengthAdjust="spacingAndGlyphs">W3FL</text>
<path d="M227.5 353.4H249.2" stroke="#ff3399" stroke-width="1"/>
<path d="M236.55 351.85L239.65 354.95M236.55 354.95L239.65 351.85" stroke="#ff3399" stroke-width="0.8"/>
<text x="251.3" y="356.5" font-size="9.6" font-weight="bold" textLength="25.9" lengthAdjust="spacingAndGlyphs">W4FH</text>
<path d="M279.3 353.4H301" stroke="#33aaff" stroke-width="1"/>
<path d="M288.35 351.85L291.45 354.95M288.35 354.95L291.45 351.85" stroke="#33aaff" stroke-width="0.8"/>
<text x="303.1" y="356.5" font-size="9.6" font-weight="bold" textLength="28.2" lengthAdjust="spacingAndGlyphs">W4FM</text>
<path d="M331 353.4H352.7" stroke="#a0602d" stroke-width="1"/>
<circle cx="341.6" cy="353.4" r="1.55" fill="#a0602d"/>
<text x="354.8" y="356.5" font-size="9.6" font-weight="bold" textLength="24.0" lengthAdjust="spacingAndGlyphs">W4FL</text>
<path d="M380.8 353.4H402.5" stroke="#777777" stroke-width="1"/>
<path d="M393.26 353.4L389.85 351.54L389.85 355.26Z" fill="#fff" stroke="#777777" stroke-width="0.7"/>
<text x="404.6" y="356.5" font-size="9.6" font-weight="bold" textLength="13.2" lengthAdjust="spacingAndGlyphs">CK</text>
<rect x="583.3" y="337.5" width="16.5" height="5.6" fill="#fdc895" stroke="#555" stroke-width="0.8"/>
<text x="602.6" y="344.8" font-size="9.6" font-weight="bold" text-anchor="start" textLength="12.4" lengthAdjust="spacingAndGlyphs">FH</text>
<rect x="620.3" y="337.5" width="16.5" height="5.6" fill="#9bd99b" stroke="#555" stroke-width="0.8"/>
<text x="639.6" y="344.8" font-size="9.6" font-weight="bold" text-anchor="start" textLength="13.88" lengthAdjust="spacingAndGlyphs">FM</text>
<rect x="583.3" y="349.2" width="16.5" height="5.6" fill="#c3b3d8" stroke="#555" stroke-width="0.8"/>
<text x="602.6" y="356.5" font-size="9.6" font-weight="bold" text-anchor="start" textLength="11.41" lengthAdjust="spacingAndGlyphs">FL</text>
<rect x="620.3" y="349.2" width="16.5" height="5.6" fill="#ffff99" stroke="#555" stroke-width="0.8"/>
<text x="639.6" y="356.5" font-size="9.6" font-weight="bold" text-anchor="start" textLength="13.39" lengthAdjust="spacingAndGlyphs">CK</text>
</svg></body></html>
